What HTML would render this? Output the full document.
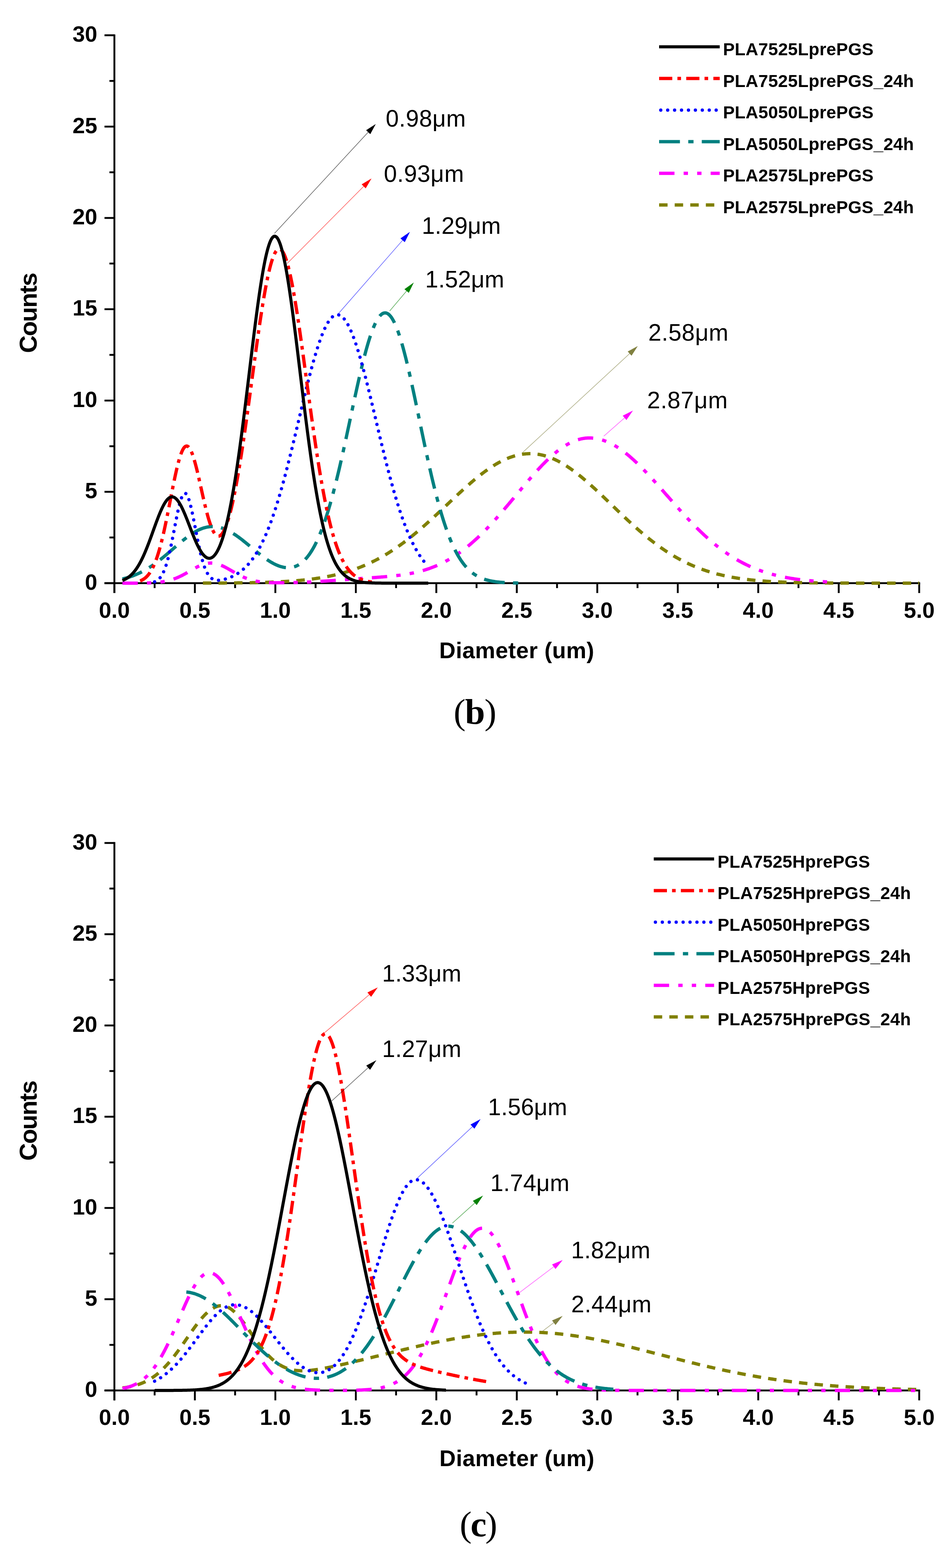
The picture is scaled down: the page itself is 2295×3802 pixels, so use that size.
<!DOCTYPE html>
<html><head><meta charset="utf-8"><title>Diameter distributions</title>
<style>html,body{margin:0;padding:0;background:#fff}svg{display:block}</style>
</head><body>
<svg width="2295" height="3802" viewBox="0 0 2295 3802">
<rect width="100%" height="100%" fill="#fff"/>
<g stroke="#000" stroke-width="4.5" fill="none">
<path d="M277.5 83.4V1438"/>
<path d="M253.5 1414H2232.2"/>
<path d="M253.5 1414H277.5M265.5 1303.3H277.5M253.5 1192.6H277.5M265.5 1081.9H277.5M253.5 971.2H277.5M265.5 860.5H277.5M253.5 749.8H277.5M265.5 639.1H277.5M253.5 528.4H277.5M265.5 417.7H277.5M253.5 307H277.5M265.5 196.3H277.5M253.5 85.6H277.5M277.5 1414V1438M375.12 1414V1426M472.75 1414V1438M570.38 1414V1426M668 1414V1438M765.62 1414V1426M863.25 1414V1438M960.88 1414V1426M1058.5 1414V1438M1156.12 1414V1426M1253.75 1414V1438M1351.38 1414V1426M1449 1414V1438M1546.62 1414V1426M1644.25 1414V1438M1741.88 1414V1426M1839.5 1414V1438M1937.12 1414V1426M2034.75 1414V1438M2132.38 1414V1426M2230 1414V1438"/>
</g>
<g font-family="'Liberation Sans', Arial, Helvetica, sans-serif" font-weight="bold" font-size="54" fill="#000">
<text x="236" y="1429.5" text-anchor="end">0</text>
<text x="236" y="1208.1" text-anchor="end">5</text>
<text x="236" y="986.7" text-anchor="end">10</text>
<text x="236" y="765.3" text-anchor="end">15</text>
<text x="236" y="543.9" text-anchor="end">20</text>
<text x="236" y="322.5" text-anchor="end">25</text>
<text x="236" y="101.1" text-anchor="end">30</text>
<text x="277.5" y="1497.5" text-anchor="middle">0.0</text>
<text x="472.75" y="1497.5" text-anchor="middle">0.5</text>
<text x="668" y="1497.5" text-anchor="middle">1.0</text>
<text x="863.25" y="1497.5" text-anchor="middle">1.5</text>
<text x="1058.5" y="1497.5" text-anchor="middle">2.0</text>
<text x="1253.75" y="1497.5" text-anchor="middle">2.5</text>
<text x="1449" y="1497.5" text-anchor="middle">3.0</text>
<text x="1644.25" y="1497.5" text-anchor="middle">3.5</text>
<text x="1839.5" y="1497.5" text-anchor="middle">4.0</text>
<text x="2034.75" y="1497.5" text-anchor="middle">4.5</text>
<text x="2230" y="1497.5" text-anchor="middle">5.0</text>
</g>
<polyline stroke="#808000" stroke-width="8" fill="none" stroke-linejoin="round" stroke-dasharray="20.5 17.3" points="492.27,1413.87 494.23,1413.86 496.18,1413.86 498.13,1413.85 500.09,1413.84 502.04,1413.84 503.99,1413.83 505.94,1413.83 507.9,1413.82 509.85,1413.81 511.8,1413.81 513.75,1413.8 515.71,1413.79 517.66,1413.78 519.61,1413.77 521.56,1413.77 523.51,1413.76 525.47,1413.75 527.42,1413.74 529.37,1413.73 531.33,1413.72 533.28,1413.71 535.23,1413.7 537.18,1413.69 539.13,1413.67 541.09,1413.66 543.04,1413.65 544.99,1413.64 546.95,1413.62 548.9,1413.61 550.85,1413.6 552.8,1413.58 554.76,1413.57 556.71,1413.55 558.66,1413.54 560.61,1413.52 562.57,1413.5 564.52,1413.49 566.47,1413.47 568.42,1413.45 570.38,1413.43 572.33,1413.41 574.28,1413.39 576.23,1413.37 578.18,1413.35 580.14,1413.32 582.09,1413.3 584.04,1413.28 586,1413.25 587.95,1413.22 589.9,1413.2 591.85,1413.17 593.81,1413.14 595.76,1413.11 597.71,1413.08 599.66,1413.05 601.62,1413.02 603.57,1412.99 605.52,1412.95 607.47,1412.92 609.42,1412.88 611.38,1412.85 613.33,1412.81 615.28,1412.77 617.24,1412.73 619.19,1412.69 621.14,1412.65 623.09,1412.6 625.05,1412.56 627,1412.51 628.95,1412.46 630.9,1412.41 632.86,1412.36 634.81,1412.31 636.76,1412.26 638.71,1412.2 640.66,1412.14 642.62,1412.09 644.57,1412.03 646.52,1411.96 648.48,1411.9 650.43,1411.84 652.38,1411.77 654.33,1411.7 656.29,1411.63 658.24,1411.56 660.19,1411.48 662.14,1411.4 664.1,1411.33 666.05,1411.24 668,1411.16 669.95,1411.08 671.9,1410.99 673.86,1410.9 675.81,1410.81 677.76,1410.71 679.72,1410.61 681.67,1410.51 683.62,1410.41 685.57,1410.3 687.53,1410.2 689.48,1410.09 691.43,1409.97 693.38,1409.85 695.34,1409.74 697.29,1409.61 699.24,1409.49 701.19,1409.36 703.14,1409.23 705.1,1409.09 707.05,1408.95 709,1408.81 710.96,1408.66 712.91,1408.51 714.86,1408.36 716.81,1408.2 718.77,1408.04 720.72,1407.88 722.67,1407.71 724.62,1407.54 726.58,1407.36 728.53,1407.18 730.48,1407 732.43,1406.81 734.38,1406.61 736.34,1406.41 738.29,1406.21 740.24,1406 742.19,1405.79 744.15,1405.57 746.1,1405.35 748.05,1405.12 750,1404.89 751.96,1404.65 753.91,1404.41 755.86,1404.16 757.82,1403.91 759.77,1403.65 761.72,1403.39 763.67,1403.12 765.62,1402.84 767.58,1402.56 769.53,1402.27 771.48,1401.97 773.43,1401.67 775.39,1401.37 777.34,1401.05 779.29,1400.73 781.25,1400.41 783.2,1400.07 785.15,1399.73 787.1,1399.38 789.06,1399.03 791.01,1398.67 792.96,1398.3 794.91,1397.92 796.87,1397.54 798.82,1397.15 800.77,1396.75 802.72,1396.34 804.68,1395.93 806.63,1395.51 808.58,1395.08 810.53,1394.64 812.49,1394.19 814.44,1393.74 816.39,1393.27 818.34,1392.8 820.3,1392.32 822.25,1391.83 824.2,1391.33 826.15,1390.82 828.11,1390.3 830.06,1389.78 832.01,1389.24 833.96,1388.69 835.92,1388.14 837.87,1387.57 839.82,1387 841.77,1386.42 843.73,1385.82 845.68,1385.22 847.63,1384.6 849.58,1383.98 851.54,1383.34 853.49,1382.69 855.44,1382.04 857.39,1381.37 859.35,1380.69 861.3,1380 863.25,1379.3 865.2,1378.59 867.16,1377.87 869.11,1377.14 871.06,1376.39 873.01,1375.63 874.97,1374.87 876.92,1374.09 878.87,1373.29 880.82,1372.49 882.77,1371.68 884.73,1370.85 886.68,1370.01 888.63,1369.16 890.59,1368.3 892.54,1367.42 894.49,1366.53 896.44,1365.63 898.39,1364.72 900.35,1363.79 902.3,1362.86 904.25,1361.91 906.21,1360.94 908.16,1359.97 910.11,1358.98 912.06,1357.98 914.02,1356.96 915.97,1355.94 917.92,1354.9 919.87,1353.84 921.83,1352.78 923.78,1351.7 925.73,1350.6 927.68,1349.5 929.64,1348.38 931.59,1347.25 933.54,1346.1 935.49,1344.95 937.45,1343.78 939.4,1342.59 941.35,1341.39 943.3,1340.18 945.26,1338.96 947.21,1337.72 949.16,1336.47 951.11,1335.21 953.07,1333.93 955.02,1332.65 956.97,1331.34 958.92,1330.03 960.88,1328.7 962.83,1327.36 964.78,1326.01 966.73,1324.64 968.69,1323.26 970.64,1321.87 972.59,1320.46 974.54,1319.05 976.5,1317.62 978.45,1316.18 980.4,1314.72 982.35,1313.26 984.31,1311.78 986.26,1310.29 988.21,1308.79 990.16,1307.28 992.12,1305.75 994.07,1304.21 996.02,1302.67 997.97,1301.11 999.93,1299.54 1001.88,1297.96 1003.83,1296.36 1005.78,1294.76 1007.73,1293.15 1009.69,1291.53 1011.64,1289.89 1013.59,1288.25 1015.55,1286.6 1017.5,1284.93 1019.45,1283.26 1021.4,1281.58 1023.36,1279.89 1025.31,1278.19 1027.26,1276.48 1029.21,1274.77 1031.16,1273.04 1033.12,1271.31 1035.07,1269.57 1037.02,1267.82 1038.97,1266.07 1040.93,1264.3 1042.88,1262.54 1044.83,1260.76 1046.78,1258.98 1048.74,1257.19 1050.69,1255.4 1052.64,1253.6 1054.6,1251.8 1056.55,1249.99 1058.5,1248.17 1060.45,1246.36 1062.41,1244.53 1064.36,1242.71 1066.31,1240.88 1068.26,1239.05 1070.22,1237.21 1072.17,1235.38 1074.12,1233.54 1076.07,1231.7 1078.03,1229.85 1079.98,1228.01 1081.93,1226.17 1083.88,1224.32 1085.84,1222.48 1087.79,1220.63 1089.74,1218.79 1091.69,1216.94 1093.64,1215.1 1095.6,1213.26 1097.55,1211.42 1099.5,1209.59 1101.46,1207.75 1103.41,1205.92 1105.36,1204.09 1107.31,1202.27 1109.26,1200.45 1111.22,1198.64 1113.17,1196.83 1115.12,1195.03 1117.08,1193.23 1119.03,1191.44 1120.98,1189.65 1122.93,1187.87 1124.88,1186.1 1126.84,1184.34 1128.79,1182.58 1130.74,1180.83 1132.7,1179.1 1134.65,1177.37 1136.6,1175.65 1138.55,1173.94 1140.51,1172.24 1142.46,1170.55 1144.41,1168.87 1146.36,1167.21 1148.32,1165.56 1150.27,1163.92 1152.22,1162.29 1154.17,1160.67 1156.12,1159.07 1158.08,1157.48 1160.03,1155.91 1161.98,1154.35 1163.93,1152.81 1165.89,1151.28 1167.84,1149.77 1169.79,1148.28 1171.74,1146.8 1173.7,1145.34 1175.65,1143.89 1177.6,1142.47 1179.56,1141.06 1181.51,1139.67 1183.46,1138.3 1185.41,1136.94 1187.37,1135.61 1189.32,1134.3 1191.27,1133.01 1193.22,1131.73 1195.18,1130.48 1197.13,1129.25 1199.08,1128.05 1201.03,1126.86 1202.99,1125.69 1204.94,1124.55 1206.89,1123.43 1208.84,1122.34 1210.8,1121.26 1212.75,1120.22 1214.7,1119.19 1216.65,1118.19 1218.61,1117.21 1220.56,1116.26 1222.51,1115.33 1224.46,1114.43 1226.41,1113.56 1228.37,1112.71 1230.32,1111.88 1232.27,1111.08 1234.22,1110.31 1236.18,1109.57 1238.13,1108.85 1240.08,1108.16 1242.04,1107.49 1243.99,1106.86 1245.94,1106.25 1247.89,1105.67 1249.85,1105.11 1251.8,1104.59 1253.75,1104.09 1255.7,1103.62 1257.66,1103.18 1259.61,1102.77 1261.56,1102.39 1263.51,1102.03 1265.47,1101.71 1267.42,1101.41 1269.37,1101.14 1271.32,1100.9 1273.28,1100.7 1275.23,1100.52 1277.18,1100.37 1279.13,1100.25 1281.09,1100.15 1283.04,1100.09 1284.99,1100.06 1286.94,1100.06 1288.89,1100.08 1290.85,1100.14 1292.8,1100.23 1294.75,1100.35 1296.71,1100.5 1298.66,1100.68 1300.61,1100.9 1302.56,1101.14 1304.51,1101.41 1306.47,1101.71 1308.42,1102.05 1310.37,1102.41 1312.33,1102.81 1314.28,1103.23 1316.23,1103.68 1318.18,1104.17 1320.13,1104.68 1322.09,1105.22 1324.04,1105.79 1325.99,1106.39 1327.95,1107.02 1329.9,1107.68 1331.85,1108.37 1333.8,1109.08 1335.75,1109.83 1337.71,1110.6 1339.66,1111.4 1341.61,1112.22 1343.57,1113.08 1345.52,1113.96 1347.47,1114.87 1349.42,1115.8 1351.38,1116.76 1353.33,1117.75 1355.28,1118.76 1357.23,1119.8 1359.19,1120.86 1361.14,1121.94 1363.09,1123.06 1365.04,1124.19 1367,1125.35 1368.95,1126.53 1370.9,1127.74 1372.85,1128.97 1374.81,1130.22 1376.76,1131.5 1378.71,1132.79 1380.66,1134.11 1382.62,1135.45 1384.57,1136.81 1386.52,1138.19 1388.47,1139.59 1390.42,1141.01 1392.38,1142.44 1394.33,1143.9 1396.28,1145.38 1398.24,1146.87 1400.19,1148.38 1402.14,1149.91 1404.09,1151.46 1406.04,1153.02 1408,1154.6 1409.95,1156.2 1411.9,1157.81 1413.86,1159.43 1415.81,1161.07 1417.76,1162.72 1419.71,1164.39 1421.67,1166.07 1423.62,1167.76 1425.57,1169.47 1427.52,1171.19 1429.48,1172.92 1431.43,1174.66 1433.38,1176.41 1435.33,1178.17 1437.29,1179.94 1439.24,1181.72 1441.19,1183.51 1443.14,1185.31 1445.1,1187.11 1447.05,1188.93 1449,1190.75 1450.95,1192.58 1452.9,1194.41 1454.86,1196.25 1456.81,1198.1 1458.76,1199.95 1460.72,1201.81 1462.67,1203.67 1464.62,1205.54 1466.57,1207.41 1468.52,1209.28 1470.48,1211.16 1472.43,1213.04 1474.38,1214.92 1476.34,1216.8 1478.29,1218.68 1480.24,1220.57 1482.19,1222.45 1484.14,1224.34 1486.1,1226.22 1488.05,1228.11 1490,1229.99 1491.96,1231.87 1493.91,1233.75 1495.86,1235.63 1497.81,1237.51 1499.77,1239.38 1501.72,1241.25 1503.67,1243.12 1505.62,1244.99 1507.58,1246.85 1509.53,1248.7 1511.48,1250.55 1513.43,1252.4 1515.38,1254.24 1517.34,1256.08 1519.29,1257.91 1521.24,1259.73 1523.19,1261.55 1525.15,1263.36 1527.1,1265.16 1529.05,1266.96 1531,1268.75 1532.96,1270.53 1534.91,1272.31 1536.86,1274.07 1538.82,1275.83 1540.77,1277.58 1542.72,1279.32 1544.67,1281.05 1546.62,1282.77 1548.58,1284.48 1550.53,1286.18 1552.48,1287.87 1554.44,1289.55 1556.39,1291.22 1558.34,1292.88 1560.29,1294.53 1562.25,1296.17 1564.2,1297.8 1566.15,1299.42 1568.1,1301.02 1570.06,1302.62 1572.01,1304.2 1573.96,1305.77 1575.91,1307.32 1577.87,1308.87 1579.82,1310.4 1581.77,1311.93 1583.72,1313.43 1585.67,1314.93 1587.63,1316.41 1589.58,1317.88 1591.53,1319.34 1593.49,1320.79 1595.44,1322.22 1597.39,1323.64 1599.34,1325.04 1601.29,1326.43 1603.25,1327.81 1605.2,1329.18 1607.15,1330.53 1609.11,1331.87 1611.06,1333.19 1613.01,1334.51 1614.96,1335.8 1616.92,1337.09 1618.87,1338.36 1620.82,1339.61 1622.77,1340.86 1624.73,1342.09 1626.68,1343.3 1628.63,1344.5 1630.58,1345.69 1632.54,1346.87 1634.49,1348.03 1636.44,1349.17 1638.39,1350.31 1640.35,1351.43 1642.3,1352.53 1644.25,1353.62 1646.2,1354.7 1648.15,1355.77 1650.11,1356.82 1652.06,1357.86 1654.01,1358.88 1655.97,1359.89 1657.92,1360.89 1659.87,1361.88 1661.82,1362.85 1663.77,1363.81 1665.73,1364.75 1667.68,1365.68 1669.63,1366.6 1671.59,1367.51 1673.54,1368.4 1675.49,1369.28 1677.44,1370.15 1679.39,1371.01 1681.35,1371.85 1683.3,1372.68 1685.25,1373.5 1687.21,1374.3 1689.16,1375.09 1691.11,1375.88 1693.06,1376.64 1695.02,1377.4 1696.97,1378.15 1698.92,1378.88 1700.87,1379.6 1702.83,1380.31 1704.78,1381.01 1706.73,1381.7 1708.68,1382.38 1710.63,1383.04 1712.59,1383.7 1714.54,1384.34 1716.49,1384.97 1718.44,1385.59 1720.4,1386.2 1722.35,1386.81 1724.3,1387.4 1726.25,1387.98 1728.21,1388.55 1730.16,1389.11 1732.11,1389.66 1734.07,1390.2 1736.02,1390.73 1737.97,1391.25 1739.92,1391.76 1741.88,1392.26 1743.83,1392.75 1745.78,1393.24 1747.73,1393.71 1749.69,1394.18 1751.64,1394.63 1753.59,1395.08 1755.54,1395.52 1757.5,1395.95 1759.45,1396.38 1761.4,1396.79 1763.35,1397.2 1765.31,1397.6 1767.26,1397.99 1769.21,1398.37 1771.16,1398.75 1773.12,1399.11 1775.07,1399.47 1777.02,1399.83 1778.97,1400.17 1780.92,1400.51 1782.88,1400.84 1784.83,1401.17 1786.78,1401.48 1788.74,1401.8 1790.69,1402.1 1792.64,1402.4 1794.59,1402.69 1796.54,1402.98 1798.5,1403.26 1800.45,1403.53 1802.4,1403.8 1804.36,1404.06 1806.31,1404.31 1808.26,1404.56 1810.21,1404.81 1812.17,1405.05 1814.12,1405.28 1816.07,1405.51 1818.02,1405.73 1819.98,1405.95 1821.93,1406.16 1823.88,1406.37 1825.83,1406.58 1827.79,1406.78 1829.74,1406.97 1831.69,1407.16 1833.64,1407.34 1835.6,1407.53 1837.55,1407.7 1839.5,1407.87 1841.45,1408.04 1843.4,1408.21 1845.36,1408.37 1847.31,1408.52 1849.26,1408.67 1851.22,1408.82 1853.17,1408.97 1855.12,1409.11 1857.07,1409.25 1859.02,1409.38 1860.98,1409.51 1862.93,1409.64 1864.88,1409.77 1866.84,1409.89 1868.79,1410.01 1870.74,1410.12 1872.69,1410.23 1874.64,1410.34 1876.6,1410.45 1878.55,1410.55 1880.5,1410.65 1882.46,1410.75 1884.41,1410.85 1886.36,1410.94 1888.31,1411.03 1890.27,1411.12 1892.22,1411.21 1894.17,1411.29 1896.12,1411.37 1898.08,1411.45 1900.03,1411.53 1901.98,1411.61 1903.93,1411.68 1905.88,1411.75 1907.84,1411.82 1909.79,1411.89 1911.74,1411.95 1913.69,1412.01 1915.65,1412.08 1917.6,1412.14 1919.55,1412.19 1921.5,1412.25 1923.46,1412.31 1925.41,1412.36 1927.36,1412.41 1929.32,1412.46 1931.27,1412.51 1933.22,1412.56 1935.17,1412.6 1937.12,1412.65 1939.08,1412.69 1941.03,1412.73 1942.98,1412.78 1944.94,1412.82 1946.89,1412.85 1948.84,1412.89 1950.79,1412.93 1952.75,1412.96 1954.7,1413 1956.65,1413.03 1958.6,1413.06 1960.56,1413.09 1962.51,1413.12 1964.46,1413.15 1966.41,1413.18 1968.37,1413.21 1970.32,1413.24 1972.27,1413.26 1974.22,1413.29 1976.17,1413.31 1978.13,1413.33 1980.08,1413.36 1982.03,1413.38 1983.99,1413.4 1985.94,1413.42 1987.89,1413.44 1989.84,1413.46 1991.8,1413.48 1993.75,1413.5 1995.7,1413.52 1997.65,1413.53 1999.61,1413.55 2001.56,1413.56 2003.51,1413.58 2005.46,1413.59 2007.42,1413.61 2009.37,1413.62 2011.32,1413.64 2013.27,1413.65 2015.23,1413.66 2017.18,1413.67 2019.13,1413.69 2021.08,1413.7 2023.04,1413.71 2024.99,1413.72 2026.94,1413.73 2028.89,1413.74 2030.85,1413.75 2032.8,1413.76 2034.75,1413.77 2036.7,1413.78 2038.65,1413.78 2040.61,1413.79 2042.56,1413.8 2044.51,1413.81 2046.47,1413.81 2048.42,1413.82 2050.37,1413.83 2052.32,1413.83 2054.27,1413.84 2056.23,1413.85 2058.18,1413.85 2060.13,1413.86 2062.09,1413.86 2064.04,1413.87 2065.99,1413.87 2067.94,1413.88 2069.89,1413.88 2071.85,1413.89 2073.8,1413.89 2075.75,1413.9 2077.7,1413.9 2079.66,1413.9 2081.61,1413.91 2083.56,1413.91 2085.51,1413.92 2087.47,1413.92 2089.42,1413.92 2091.37,1413.92 2093.32,1413.93 2095.28,1413.93 2097.23,1413.93 2099.18,1413.94 2101.14,1413.94 2103.09,1413.94 2105.04,1413.94 2106.99,1413.95 2108.95,1413.95 2110.9,1413.95 2112.85,1413.95 2114.8,1413.95 2116.76,1413.96 2118.71,1413.96 2120.66,1413.96 2122.61,1413.96 2124.57,1413.96 2126.52,1413.96 2128.47,1413.97 2130.42,1413.97 2132.38,1413.97 2134.33,1413.97 2136.28,1413.97 2138.23,1413.97 2140.19,1413.97 2142.14,1413.97 2144.09,1413.98 2146.04,1413.98 2147.99,1413.98 2149.95,1413.98 2151.9,1413.98 2153.85,1413.98 2155.8,1413.98 2157.76,1413.98 2159.71,1413.98 2161.66,1413.98 2163.61,1413.98 2165.57,1413.98 2167.52,1413.99 2169.47,1413.99 2171.43,1413.99 2173.38,1413.99 2175.33,1413.99 2177.28,1413.99 2179.24,1413.99 2181.19,1413.99 2183.14,1413.99 2185.09,1413.99 2187.05,1413.99 2189,1413.99 2190.95,1413.99 2192.9,1413.99 2194.86,1413.99 2196.81,1413.99 2198.76,1413.99 2200.71,1413.99 2202.66,1413.99 2204.62,1413.99 2206.57,1413.99 2208.52,1413.99 2210.48,1413.99 2212.43,1413.99 2214.38,1414 2216.33,1414 2218.28,1414 2220.24,1414 2222.19,1414 2224.14,1414 2226.1,1414 2228.05,1414 2230,1414"/>
<polyline stroke="#ff00ff" stroke-width="8" fill="none" stroke-linejoin="round" stroke-dasharray="37.3 22.2 10.5 22.3 10.5 22.2" points="297.02,1413.99 298.98,1413.99 300.93,1413.99 302.88,1413.99 304.83,1413.99 306.79,1413.99 308.74,1413.98 310.69,1413.98 312.64,1413.98 314.6,1413.97 316.55,1413.97 318.5,1413.97 320.45,1413.96 322.41,1413.95 324.36,1413.95 326.31,1413.94 328.26,1413.93 330.22,1413.92 332.17,1413.91 334.12,1413.89 336.07,1413.88 338.03,1413.86 339.98,1413.84 341.93,1413.82 343.88,1413.79 345.84,1413.77 347.79,1413.74 349.74,1413.7 351.69,1413.66 353.65,1413.62 355.6,1413.57 357.55,1413.52 359.5,1413.46 361.46,1413.39 363.41,1413.32 365.36,1413.24 367.31,1413.15 369.27,1413.05 371.22,1412.95 373.17,1412.83 375.12,1412.7 377.08,1412.56 379.03,1412.41 380.98,1412.24 382.94,1412.06 384.89,1411.86 386.84,1411.65 388.79,1411.41 390.75,1411.16 392.7,1410.89 394.65,1410.6 396.6,1410.29 398.56,1409.95 400.51,1409.59 402.46,1409.21 404.41,1408.8 406.37,1408.36 408.32,1407.9 410.27,1407.41 412.22,1406.89 414.18,1406.33 416.13,1405.75 418.08,1405.14 420.03,1404.49 421.99,1403.82 423.94,1403.11 425.89,1402.37 427.84,1401.59 429.79,1400.79 431.75,1399.95 433.7,1399.08 435.65,1398.19 437.61,1397.26 439.56,1396.31 441.51,1395.32 443.46,1394.32 445.41,1393.29 447.37,1392.23 449.32,1391.16 451.27,1390.07 453.23,1388.97 455.18,1387.85 457.13,1386.72 459.08,1385.59 461.03,1384.46 462.99,1383.32 464.94,1382.19 466.89,1381.06 468.85,1379.95 470.8,1378.85 472.75,1377.77 474.7,1376.71 476.65,1375.67 478.61,1374.67 480.56,1373.69 482.51,1372.76 484.47,1371.86 486.42,1371.01 488.37,1370.21 490.32,1369.46 492.27,1368.76 494.23,1368.12 496.18,1367.54 498.13,1367.02 500.09,1366.57 502.04,1366.18 503.99,1365.86 505.94,1365.61 507.9,1365.43 509.85,1365.32 511.8,1365.29 513.75,1365.32 515.71,1365.43 517.66,1365.61 519.61,1365.86 521.56,1366.18 523.51,1366.57 525.47,1367.02 527.42,1367.54 529.37,1368.12 531.33,1368.76 533.28,1369.45 535.23,1370.2 537.18,1371.01 539.13,1371.86 541.09,1372.75 543.04,1373.68 544.99,1374.65 546.95,1375.66 548.9,1376.69 550.85,1377.75 552.8,1378.83 554.76,1379.93 556.71,1381.05 558.66,1382.17 560.61,1383.3 562.57,1384.43 564.52,1385.57 566.47,1386.7 568.42,1387.82 570.38,1388.94 572.33,1390.04 574.28,1391.13 576.23,1392.2 578.18,1393.25 580.14,1394.27 582.09,1395.28 584.04,1396.26 586,1397.21 587.95,1398.13 589.9,1399.03 591.85,1399.89 593.81,1400.72 595.76,1401.52 597.71,1402.29 599.66,1403.03 601.62,1403.73 603.57,1404.4 605.52,1405.04 607.47,1405.65 609.42,1406.23 611.38,1406.77 613.33,1407.29 615.28,1407.77 617.24,1408.23 619.19,1408.66 621.14,1409.06 623.09,1409.44 625.05,1409.78 627,1410.11 628.95,1410.41 630.9,1410.69 632.86,1410.95 634.81,1411.19 636.76,1411.41 638.71,1411.61 640.67,1411.8 642.62,1411.96 644.57,1412.12 646.52,1412.25 648.48,1412.38 650.43,1412.49 652.38,1412.59 654.33,1412.68 656.29,1412.75 658.24,1412.82 660.19,1412.88 662.14,1412.93 664.1,1412.98 666.05,1413.01 668,1413.04 669.95,1413.06 671.9,1413.08 673.86,1413.09 675.81,1413.09 677.76,1413.09 679.72,1413.09 681.67,1413.08 683.62,1413.07 685.57,1413.05 687.53,1413.03 689.48,1413.01 691.43,1412.99 693.38,1412.96 695.34,1412.92 697.29,1412.89 699.24,1412.85 701.19,1412.81 703.14,1412.77 705.1,1412.73 707.05,1412.68 709,1412.63 710.96,1412.58 712.91,1412.53 714.86,1412.47 716.81,1412.42 718.77,1412.36 720.72,1412.3 722.67,1412.23 724.62,1412.17 726.58,1412.1 728.53,1412.03 730.48,1411.96 732.43,1411.89 734.38,1411.81 736.34,1411.74 738.29,1411.66 740.24,1411.58 742.2,1411.49 744.15,1411.41 746.1,1411.32 748.05,1411.23 750,1411.14 751.96,1411.05 753.91,1410.96 755.86,1410.86 757.82,1410.76 759.77,1410.66 761.72,1410.56 763.67,1410.46 765.63,1410.35 767.58,1410.24 769.53,1410.13 771.48,1410.02 773.43,1409.91 775.39,1409.8 777.34,1409.68 779.29,1409.56 781.25,1409.45 783.2,1409.32 785.15,1409.2 787.1,1409.08 789.06,1408.95 791.01,1408.83 792.96,1408.7 794.91,1408.57 796.87,1408.44 798.82,1408.31 800.77,1408.18 802.72,1408.04 804.68,1407.91 806.63,1407.77 808.58,1407.63 810.53,1407.5 812.49,1407.36 814.44,1407.22 816.39,1407.08 818.34,1406.94 820.3,1406.8 822.25,1406.66 824.2,1406.51 826.15,1406.37 828.11,1406.23 830.06,1406.09 832.01,1405.94 833.96,1405.8 835.92,1405.65 837.87,1405.51 839.82,1405.37 841.77,1405.22 843.73,1405.08 845.68,1404.93 847.63,1404.79 849.58,1404.65 851.54,1404.5 853.49,1404.36 855.44,1404.22 857.39,1404.07 859.35,1403.93 861.3,1403.79 863.25,1403.65 865.2,1403.5 867.15,1403.36 869.11,1403.22 871.06,1403.08 873.01,1402.94 874.97,1402.8 876.92,1402.66 878.87,1402.52 880.82,1402.38 882.77,1402.24 884.73,1402.11 886.68,1401.97 888.63,1401.83 890.59,1401.69 892.54,1401.55 894.49,1401.41 896.44,1401.27 898.39,1401.14 900.35,1401 902.3,1400.86 904.25,1400.72 906.21,1400.58 908.16,1400.43 910.11,1400.29 912.06,1400.15 914.01,1400.01 915.97,1399.86 917.92,1399.71 919.87,1399.56 921.83,1399.41 923.78,1399.26 925.73,1399.11 927.68,1398.95 929.64,1398.8 931.59,1398.63 933.54,1398.47 935.49,1398.31 937.45,1398.14 939.4,1397.96 941.35,1397.79 943.3,1397.61 945.26,1397.43 947.21,1397.24 949.16,1397.05 951.11,1396.85 953.06,1396.65 955.02,1396.45 956.97,1396.24 958.92,1396.02 960.88,1395.8 962.83,1395.57 964.78,1395.34 966.73,1395.1 968.69,1394.85 970.64,1394.6 972.59,1394.33 974.54,1394.07 976.5,1393.79 978.45,1393.51 980.4,1393.21 982.35,1392.91 984.31,1392.6 986.26,1392.29 988.21,1391.96 990.16,1391.62 992.12,1391.28 994.07,1390.92 996.02,1390.55 997.97,1390.18 999.93,1389.79 1001.88,1389.39 1003.83,1388.98 1005.78,1388.56 1007.74,1388.12 1009.69,1387.68 1011.64,1387.22 1013.59,1386.75 1015.55,1386.26 1017.5,1385.77 1019.45,1385.26 1021.4,1384.73 1023.36,1384.2 1025.31,1383.64 1027.26,1383.08 1029.21,1382.5 1031.16,1381.9 1033.12,1381.29 1035.07,1380.67 1037.02,1380.03 1038.97,1379.37 1040.93,1378.7 1042.88,1378.01 1044.83,1377.31 1046.79,1376.59 1048.74,1375.85 1050.69,1375.1 1052.64,1374.33 1054.6,1373.54 1056.55,1372.74 1058.5,1371.91 1060.45,1371.07 1062.4,1370.22 1064.36,1369.34 1066.31,1368.45 1068.26,1367.53 1070.22,1366.6 1072.17,1365.65 1074.12,1364.69 1076.07,1363.7 1078.03,1362.69 1079.98,1361.67 1081.93,1360.62 1083.88,1359.56 1085.84,1358.48 1087.79,1357.38 1089.74,1356.25 1091.69,1355.11 1093.64,1353.95 1095.6,1352.77 1097.55,1351.57 1099.5,1350.35 1101.45,1349.11 1103.41,1347.85 1105.36,1346.57 1107.31,1345.27 1109.26,1343.95 1111.22,1342.61 1113.17,1341.25 1115.12,1339.87 1117.07,1338.46 1119.03,1337.04 1120.98,1335.6 1122.93,1334.14 1124.88,1332.66 1126.84,1331.16 1128.79,1329.63 1130.74,1328.09 1132.69,1326.53 1134.65,1324.95 1136.6,1323.35 1138.55,1321.73 1140.51,1320.08 1142.46,1318.42 1144.41,1316.74 1146.36,1315.04 1148.32,1313.33 1150.27,1311.59 1152.22,1309.83 1154.17,1308.06 1156.12,1306.26 1158.08,1304.45 1160.03,1302.62 1161.98,1300.77 1163.93,1298.9 1165.89,1297.02 1167.84,1295.12 1169.79,1293.2 1171.74,1291.26 1173.7,1289.31 1175.65,1287.34 1177.6,1285.35 1179.56,1283.34 1181.51,1281.33 1183.46,1279.29 1185.41,1277.24 1187.37,1275.17 1189.32,1273.09 1191.27,1271 1193.22,1268.89 1195.18,1266.77 1197.13,1264.63 1199.08,1262.48 1201.03,1260.32 1202.98,1258.14 1204.94,1255.96 1206.89,1253.76 1208.84,1251.55 1210.8,1249.33 1212.75,1247.09 1214.7,1244.85 1216.65,1242.6 1218.61,1240.34 1220.56,1238.07 1222.51,1235.79 1224.46,1233.51 1226.41,1231.21 1228.37,1228.91 1230.32,1226.6 1232.27,1224.29 1234.22,1221.97 1236.18,1219.65 1238.13,1217.32 1240.08,1214.99 1242.03,1212.65 1243.99,1210.31 1245.94,1207.97 1247.89,1205.63 1249.84,1203.29 1251.8,1200.94 1253.75,1198.59 1255.7,1196.25 1257.66,1193.91 1259.61,1191.56 1261.56,1189.22 1263.51,1186.89 1265.46,1184.55 1267.42,1182.22 1269.37,1179.9 1271.32,1177.58 1273.28,1175.26 1275.23,1172.95 1277.18,1170.65 1279.13,1168.36 1281.09,1166.07 1283.04,1163.8 1284.99,1161.53 1286.94,1159.27 1288.89,1157.03 1290.85,1154.79 1292.8,1152.57 1294.75,1150.36 1296.7,1148.16 1298.66,1145.98 1300.61,1143.82 1302.56,1141.66 1304.51,1139.53 1306.47,1137.41 1308.42,1135.31 1310.37,1133.22 1312.33,1131.16 1314.28,1129.11 1316.23,1127.08 1318.18,1125.08 1320.13,1123.09 1322.09,1121.13 1324.04,1119.19 1325.99,1117.27 1327.94,1115.38 1329.9,1113.51 1331.85,1111.66 1333.8,1109.84 1335.75,1108.05 1337.71,1106.28 1339.66,1104.54 1341.61,1102.83 1343.57,1101.14 1345.52,1099.49 1347.47,1097.86 1349.42,1096.27 1351.38,1094.7 1353.33,1093.17 1355.28,1091.66 1357.23,1090.19 1359.18,1088.75 1361.14,1087.35 1363.09,1085.98 1365.04,1084.64 1367,1083.34 1368.95,1082.07 1370.9,1080.84 1372.85,1079.64 1374.81,1078.48 1376.76,1077.35 1378.71,1076.27 1380.66,1075.22 1382.62,1074.2 1384.57,1073.23 1386.52,1072.29 1388.47,1071.4 1390.42,1070.54 1392.38,1069.72 1394.33,1068.94 1396.28,1068.21 1398.24,1067.51 1400.19,1066.85 1402.14,1066.23 1404.09,1065.66 1406.05,1065.12 1408,1064.63 1409.95,1064.18 1411.9,1063.77 1413.85,1063.4 1415.81,1063.07 1417.76,1062.79 1419.71,1062.55 1421.66,1062.35 1423.62,1062.19 1425.57,1062.08 1427.52,1062 1429.48,1061.97 1431.43,1061.99 1433.38,1062.04 1435.33,1062.12 1437.28,1062.25 1439.24,1062.41 1441.19,1062.62 1443.14,1062.86 1445.09,1063.13 1447.05,1063.45 1449,1063.8 1450.95,1064.19 1452.91,1064.62 1454.86,1065.09 1456.81,1065.59 1458.76,1066.13 1460.71,1066.71 1462.67,1067.32 1464.62,1067.97 1466.57,1068.66 1468.52,1069.38 1470.48,1070.14 1472.43,1070.93 1474.38,1071.76 1476.34,1072.63 1478.29,1073.53 1480.24,1074.46 1482.19,1075.43 1484.14,1076.43 1486.1,1077.46 1488.05,1078.53 1490,1079.63 1491.95,1080.77 1493.91,1081.93 1495.86,1083.13 1497.81,1084.36 1499.76,1085.62 1501.72,1086.91 1503.67,1088.23 1505.62,1089.58 1507.58,1090.96 1509.53,1092.37 1511.48,1093.81 1513.43,1095.28 1515.38,1096.77 1517.34,1098.29 1519.29,1099.84 1521.24,1101.41 1523.19,1103.02 1525.15,1104.64 1527.1,1106.29 1529.05,1107.97 1531,1109.66 1532.96,1111.39 1534.91,1113.13 1536.86,1114.9 1538.82,1116.69 1540.77,1118.5 1542.72,1120.33 1544.67,1122.18 1546.62,1124.05 1548.58,1125.95 1550.53,1127.86 1552.48,1129.78 1554.43,1131.73 1556.39,1133.69 1558.34,1135.67 1560.29,1137.67 1562.25,1139.68 1564.2,1141.7 1566.15,1143.74 1568.1,1145.79 1570.06,1147.86 1572.01,1149.94 1573.96,1152.03 1575.91,1154.14 1577.87,1156.25 1579.82,1158.38 1581.77,1160.51 1583.72,1162.66 1585.67,1164.81 1587.63,1166.97 1589.58,1169.14 1591.53,1171.32 1593.49,1173.5 1595.44,1175.69 1597.39,1177.89 1599.34,1180.09 1601.3,1182.29 1603.25,1184.5 1605.2,1186.72 1607.15,1188.93 1609.1,1191.15 1611.06,1193.37 1613.01,1195.59 1614.96,1197.82 1616.91,1200.04 1618.87,1202.26 1620.82,1204.49 1622.77,1206.71 1624.73,1208.93 1626.68,1211.15 1628.63,1213.37 1630.58,1215.58 1632.53,1217.8 1634.49,1220 1636.44,1222.21 1638.39,1224.41 1640.34,1226.6 1642.3,1228.79 1644.25,1230.97 1646.2,1233.15 1648.16,1235.32 1650.11,1237.49 1652.06,1239.64 1654.01,1241.79 1655.96,1243.93 1657.92,1246.07 1659.87,1248.19 1661.82,1250.31 1663.77,1252.41 1665.73,1254.51 1667.68,1256.59 1669.63,1258.67 1671.59,1260.73 1673.54,1262.78 1675.49,1264.83 1677.44,1266.86 1679.39,1268.88 1681.35,1270.88 1683.3,1272.88 1685.25,1274.86 1687.2,1276.83 1689.16,1278.78 1691.11,1280.72 1693.06,1282.65 1695.01,1284.56 1696.97,1286.46 1698.92,1288.35 1700.87,1290.22 1702.83,1292.08 1704.78,1293.92 1706.73,1295.75 1708.68,1297.56 1710.63,1299.36 1712.59,1301.14 1714.54,1302.9 1716.49,1304.65 1718.44,1306.39 1720.4,1308.1 1722.35,1309.81 1724.3,1311.49 1726.25,1313.16 1728.21,1314.81 1730.16,1316.45 1732.11,1318.07 1734.07,1319.67 1736.02,1321.26 1737.97,1322.83 1739.92,1324.38 1741.88,1325.92 1743.83,1327.44 1745.78,1328.94 1747.73,1330.42 1749.68,1331.89 1751.64,1333.34 1753.59,1334.77 1755.54,1336.19 1757.5,1337.59 1759.45,1338.97 1761.4,1340.34 1763.35,1341.69 1765.31,1343.02 1767.26,1344.33 1769.21,1345.63 1771.16,1346.91 1773.12,1348.18 1775.07,1349.42 1777.02,1350.65 1778.97,1351.87 1780.92,1353.07 1782.88,1354.25 1784.83,1355.41 1786.78,1356.56 1788.74,1357.69 1790.69,1358.8 1792.64,1359.9 1794.59,1360.99 1796.55,1362.05 1798.5,1363.1 1800.45,1364.14 1802.4,1365.16 1804.35,1366.16 1806.31,1367.15 1808.26,1368.12 1810.21,1369.08 1812.16,1370.02 1814.12,1370.95 1816.07,1371.86 1818.02,1372.76 1819.98,1373.64 1821.93,1374.51 1823.88,1375.36 1825.83,1376.2 1827.78,1377.02 1829.74,1377.83 1831.69,1378.63 1833.64,1379.41 1835.59,1380.18 1837.55,1380.94 1839.5,1381.68 1841.45,1382.41 1843.41,1383.13 1845.36,1383.83 1847.31,1384.52 1849.26,1385.2 1851.22,1385.86 1853.17,1386.51 1855.12,1387.15 1857.07,1387.78 1859.02,1388.4 1860.98,1389 1862.93,1389.6 1864.88,1390.18 1866.84,1390.75 1868.79,1391.31 1870.74,1391.86 1872.69,1392.39 1874.64,1392.92 1876.6,1393.44 1878.55,1393.94 1880.5,1394.44 1882.46,1394.92 1884.41,1395.4 1886.36,1395.86 1888.31,1396.32 1890.26,1396.76 1892.22,1397.2 1894.17,1397.63 1896.12,1398.04 1898.08,1398.45 1900.03,1398.85 1901.98,1399.24 1903.93,1399.63 1905.88,1400 1907.84,1400.37 1909.79,1400.73 1911.74,1401.08 1913.69,1401.42 1915.65,1401.75 1917.6,1402.08 1919.55,1402.4 1921.5,1402.71 1923.46,1403.02 1925.41,1403.31 1927.36,1403.6 1929.32,1403.89 1931.27,1404.17 1933.22,1404.44 1935.17,1404.7 1937.12,1404.96 1939.08,1405.21 1941.03,1405.46 1942.98,1405.7 1944.93,1405.93 1946.89,1406.16 1948.84,1406.38 1950.79,1406.6 1952.75,1406.81 1954.7,1407.02 1956.65,1407.22 1958.6,1407.41 1960.55,1407.6 1962.51,1407.79 1964.46,1407.97 1966.41,1408.15 1968.37,1408.32 1970.32,1408.49 1972.27,1408.65 1974.22,1408.81 1976.17,1408.97 1978.13,1409.12 1980.08,1409.26 1982.03,1409.41 1983.99,1409.55 1985.94,1409.68 1987.89,1409.81 1989.84,1409.94 1991.79,1410.06 1993.75,1410.19 1995.7,1410.3 1997.65,1410.42 1999.61,1410.53 2001.56,1410.64 2003.51,1410.74 2005.46,1410.85 2007.42,1410.95 2009.37,1411.04 2011.32,1411.14 2013.27,1411.23 2015.23,1411.32 2017.18,1411.4 2019.13,1411.49"/>
<polyline stroke="#008080" stroke-width="8" fill="none" stroke-linejoin="round" stroke-dasharray="50.5 20.2 12.8 20" points="297.02,1403.93 298.98,1403.45 300.93,1402.95 302.88,1402.44 304.83,1401.9 306.79,1401.35 308.74,1400.78 310.69,1400.18 312.64,1399.57 314.6,1398.93 316.55,1398.27 318.5,1397.59 320.45,1396.89 322.41,1396.17 324.36,1395.42 326.31,1394.65 328.26,1393.86 330.22,1393.04 332.17,1392.2 334.12,1391.34 336.07,1390.45 338.03,1389.53 339.98,1388.59 341.93,1387.63 343.88,1386.63 345.84,1385.62 347.79,1384.58 349.74,1383.51 351.69,1382.42 353.65,1381.3 355.6,1380.16 357.55,1378.99 359.5,1377.8 361.46,1376.58 363.41,1375.33 365.36,1374.07 367.31,1372.77 369.27,1371.46 371.22,1370.11 373.17,1368.75 375.12,1367.36 377.08,1365.95 379.03,1364.52 380.98,1363.07 382.94,1361.59 384.89,1360.1 386.84,1358.59 388.79,1357.05 390.75,1355.5 392.7,1353.94 394.65,1352.35 396.6,1350.75 398.56,1349.14 400.51,1347.51 402.46,1345.87 404.41,1344.22 406.37,1342.56 408.32,1340.89 410.27,1339.21 412.22,1337.52 414.18,1335.83 416.13,1334.14 418.08,1332.44 420.03,1330.74 421.99,1329.04 423.94,1327.35 425.89,1325.65 427.84,1323.96 429.79,1322.28 431.75,1320.6 433.7,1318.93 435.65,1317.27 437.61,1315.63 439.56,1314 441.51,1312.38 443.46,1310.78 445.41,1309.2 447.37,1307.64 449.32,1306.1 451.27,1304.58 453.23,1303.09 455.18,1301.63 457.13,1300.19 459.08,1298.78 461.03,1297.41 462.99,1296.07 464.94,1294.76 466.89,1293.48 468.85,1292.25 470.8,1291.05 472.75,1289.89 474.7,1288.78 476.65,1287.7 478.61,1286.67 480.56,1285.69 482.51,1284.75 484.47,1283.86 486.42,1283.01 488.37,1282.22 490.32,1281.48 492.27,1280.79 494.23,1280.15 496.18,1279.56 498.13,1279.03 500.09,1278.55 502.04,1278.12 503.99,1277.76 505.94,1277.44 507.89,1277.19 509.85,1276.99 511.8,1276.84 513.75,1276.76 515.7,1276.73 517.66,1276.76 519.61,1276.84 521.56,1276.97 523.51,1277.17 525.47,1277.41 527.42,1277.71 529.37,1278.06 531.33,1278.47 533.28,1278.93 535.23,1279.44 537.18,1280 539.13,1280.62 541.09,1281.28 543.04,1281.99 544.99,1282.76 546.95,1283.56 548.9,1284.42 550.85,1285.32 552.8,1286.27 554.76,1287.26 556.71,1288.29 558.66,1289.36 560.61,1290.47 562.57,1291.63 564.52,1292.81 566.47,1294.04 568.42,1295.3 570.38,1296.59 572.33,1297.91 574.28,1299.27 576.23,1300.65 578.18,1302.06 580.14,1303.49 582.09,1304.95 584.04,1306.43 586,1307.93 587.95,1309.46 589.9,1310.99 591.85,1312.55 593.81,1314.12 595.76,1315.7 597.71,1317.29 599.66,1318.9 601.62,1320.51 603.57,1322.12 605.52,1323.74 607.47,1325.37 609.42,1326.99 611.38,1328.62 613.33,1330.24 615.28,1331.86 617.24,1333.47 619.19,1335.08 621.14,1336.68 623.09,1338.27 625.05,1339.85 627,1341.41 628.95,1342.96 630.9,1344.5 632.86,1346.01 634.81,1347.51 636.76,1348.99 638.71,1350.45 640.66,1351.88 642.62,1353.28 644.57,1354.67 646.52,1356.02 648.47,1357.34 650.43,1358.64 652.38,1359.9 654.33,1361.12 656.29,1362.32 658.24,1363.47 660.19,1364.59 662.14,1365.67 664.1,1366.7 666.05,1367.7 668,1368.65 669.95,1369.56 671.9,1370.41 673.86,1371.22 675.81,1371.98 677.76,1372.69 679.72,1373.35 681.67,1373.95 683.62,1374.49 685.57,1374.97 687.53,1375.4 689.48,1375.76 691.43,1376.06 693.38,1376.29 695.34,1376.46 697.29,1376.56 699.24,1376.58 701.19,1376.53 703.14,1376.41 705.1,1376.21 707.05,1375.92 709,1375.56 710.96,1375.11 712.91,1374.58 714.86,1373.96 716.81,1373.24 718.76,1372.44 720.72,1371.53 722.67,1370.53 724.62,1369.43 726.58,1368.22 728.53,1366.91 730.48,1365.49 732.43,1363.96 734.38,1362.32 736.34,1360.56 738.29,1358.68 740.24,1356.68 742.19,1354.55 744.15,1352.3 746.1,1349.92 748.05,1347.41 750,1344.76 751.96,1341.98 753.91,1339.06 755.86,1335.99 757.82,1332.79 759.77,1329.43 761.72,1325.93 763.67,1322.28 765.63,1318.48 767.58,1314.53 769.53,1310.41 771.48,1306.15 773.43,1301.72 775.39,1297.14 777.34,1292.39 779.29,1287.48 781.25,1282.41 783.2,1277.18 785.15,1271.78 787.1,1266.23 789.06,1260.5 791.01,1254.62 792.96,1248.57 794.91,1242.37 796.87,1236 798.82,1229.47 800.77,1222.79 802.72,1215.95 804.67,1208.96 806.63,1201.82 808.58,1194.53 810.53,1187.1 812.49,1179.53 814.44,1171.82 816.39,1163.98 818.34,1156.01 820.3,1147.92 822.25,1139.71 824.2,1131.39 826.15,1122.96 828.11,1114.44 830.06,1105.82 832.01,1097.11 833.96,1088.32 835.92,1079.46 837.87,1070.54 839.82,1061.56 841.77,1052.53 843.73,1043.46 845.68,1034.36 847.63,1025.25 849.58,1016.12 851.54,1006.99 853.49,997.86 855.44,988.76 857.39,979.68 859.35,970.65 861.3,961.66 863.25,952.74 865.2,943.88 867.15,935.11 869.11,926.43 871.06,917.86 873.01,909.4 874.97,901.07 876.92,892.87 878.87,884.83 880.82,876.94 882.77,869.23 884.73,861.7 886.68,854.36 888.63,847.22 890.59,840.29 892.54,833.59 894.49,827.12 896.44,820.9 898.39,814.92 900.35,809.21 902.3,803.76 904.25,798.59 906.21,793.71 908.16,789.12 910.11,784.83 912.06,780.84 914.01,777.17 915.97,773.82 917.92,770.79 919.87,768.09 921.83,765.72 923.78,763.69 925.73,762 927.68,760.65 929.63,759.64 931.59,758.98 933.54,758.67 935.49,758.71 937.44,759.11 939.4,759.88 941.35,761 943.3,762.49 945.25,764.34 947.21,766.54 949.16,769.09 951.11,771.99 953.06,775.23 955.02,778.81 956.97,782.72 958.92,786.96 960.88,791.51 962.83,796.37 964.78,801.54 966.73,807 968.69,812.75 970.64,818.77 972.59,825.06 974.54,831.61 976.5,838.41 978.45,845.44 980.4,852.7 982.35,860.17 984.31,867.85 986.26,875.72 988.21,883.78 990.16,892 992.12,900.38 994.07,908.91 996.02,917.57 997.97,926.36 999.92,935.25 1001.88,944.25 1003.83,953.33 1005.78,962.49 1007.74,971.71 1009.69,980.99 1011.64,990.3 1013.59,999.65 1015.55,1009.01 1017.5,1018.39 1019.45,1027.76 1021.4,1037.12 1023.36,1046.46 1025.31,1055.76 1027.26,1065.03 1029.21,1074.24 1031.16,1083.39 1033.12,1092.48 1035.07,1101.49 1037.02,1110.42 1038.97,1119.25 1040.93,1127.99 1042.88,1136.62 1044.83,1145.14 1046.78,1153.55 1048.74,1161.83 1050.69,1169.99 1052.64,1178.01 1054.6,1185.9 1056.55,1193.64 1058.5,1201.24 1060.45,1208.69 1062.4,1215.99 1064.36,1223.14 1066.31,1230.14 1068.26,1236.97 1070.21,1243.65 1072.17,1250.16 1074.12,1256.51 1076.07,1262.7 1078.03,1268.73 1079.98,1274.6 1081.93,1280.3 1083.88,1285.84 1085.84,1291.22 1087.79,1296.44 1089.74,1301.5 1091.69,1306.41 1093.64,1311.15 1095.6,1315.74 1097.55,1320.18 1099.5,1324.47 1101.45,1328.61 1103.41,1332.6 1105.36,1336.45 1107.31,1340.16 1109.26,1343.73 1111.22,1347.17 1113.17,1350.47 1115.12,1353.64 1117.07,1356.69 1119.03,1359.61 1120.98,1362.41 1122.93,1365.1 1124.88,1367.67 1126.84,1370.13 1128.79,1372.48 1130.74,1374.73 1132.69,1376.88 1134.65,1378.93 1136.6,1380.88 1138.55,1382.75 1140.5,1384.52 1142.46,1386.21 1144.41,1387.82 1146.36,1389.35 1148.32,1390.8 1150.27,1392.18 1152.22,1393.48 1154.17,1394.72 1156.12,1395.9 1158.08,1397.01 1160.03,1398.07 1161.98,1399.06 1163.93,1400 1165.89,1400.89 1167.84,1401.73 1169.79,1402.53 1171.74,1403.27 1173.7,1403.98 1175.65,1404.64 1177.6,1405.27 1179.56,1405.85 1181.51,1406.4 1183.46,1406.92 1185.41,1407.41 1187.36,1407.87 1189.32,1408.29 1191.27,1408.7 1193.22,1409.07 1195.17,1409.42 1197.13,1409.75 1199.08,1410.06 1201.03,1410.35 1202.98,1410.62 1204.94,1410.87 1206.89,1411.1 1208.84,1411.32 1210.8,1411.52 1212.75,1411.71 1214.7,1411.88 1216.65,1412.05 1218.61,1412.2 1220.56,1412.34 1222.51,1412.47 1224.46,1412.59 1226.41,1412.7 1228.37,1412.81 1230.32,1412.9 1232.27,1412.99 1234.22,1413.07 1236.18,1413.15 1238.13,1413.22 1240.08,1413.28 1242.03,1413.34 1243.99,1413.4 1245.94,1413.45 1247.89,1413.5 1249.84,1413.54 1251.8,1413.58 1253.75,1413.62 1255.7,1413.65 1257.65,1413.68 1259.61,1413.71 1261.56,1413.73 1263.51,1413.76 1265.46,1413.78"/>
<polyline stroke="#0000ff" stroke-width="8" fill="none" stroke-linejoin="round" stroke-linecap="round" stroke-dasharray="0.01 16.79" points="375.12,1410.67 377.08,1409.85 379.03,1408.86 380.98,1407.68 382.94,1406.27 384.89,1404.6 386.84,1402.63 388.79,1400.33 390.75,1397.67 392.7,1394.61 394.65,1391.1 396.6,1387.12 398.56,1382.63 400.51,1377.61 402.46,1372.03 404.41,1365.89 406.37,1359.17 408.32,1351.88 410.27,1344.04 412.22,1335.67 414.17,1326.81 416.13,1317.53 418.08,1307.89 420.03,1297.97 421.99,1287.87 423.94,1277.71 425.89,1267.59 427.84,1257.65 429.8,1248.01 431.75,1238.83 433.7,1230.22 435.65,1222.33 437.61,1215.28 439.56,1209.18 441.51,1204.14 443.46,1200.24 445.41,1197.55 447.37,1196.12 449.32,1195.97 451.27,1197.1 453.23,1199.49 455.18,1203.11 457.13,1207.88 459.08,1213.73 461.03,1220.55 462.99,1228.24 464.94,1236.66 466.89,1245.68 468.85,1255.18 470.8,1265.01 472.75,1275.04 474.7,1285.14 476.65,1295.19 478.61,1305.08 480.56,1314.71 482.51,1323.99 484.47,1332.85 486.42,1341.22 488.37,1349.08 490.32,1356.38 492.27,1363.1 494.23,1369.24 496.18,1374.8 498.13,1379.8 500.09,1384.25 502.04,1388.18 503.99,1391.62 505.94,1394.6 507.9,1397.15 509.85,1399.33 511.8,1401.15 513.75,1402.66 515.7,1403.89 517.66,1404.87 519.61,1405.63 521.56,1406.2 523.51,1406.6 525.47,1406.86 527.42,1407 529.37,1407.02 531.32,1406.95 533.28,1406.8 535.23,1406.57 537.18,1406.28 539.13,1405.93 541.09,1405.53 543.04,1405.08 544.99,1404.59 546.94,1404.05 548.9,1403.47 550.85,1402.85 552.8,1402.2 554.75,1401.5 556.71,1400.76 558.66,1399.97 560.61,1399.15 562.57,1398.28 564.52,1397.37 566.47,1396.41 568.42,1395.4 570.38,1394.35 572.33,1393.24 574.28,1392.08 576.23,1390.86 578.18,1389.59 580.14,1388.25 582.09,1386.86 584.04,1385.4 585.99,1383.88 587.95,1382.29 589.9,1380.63 591.85,1378.9 593.81,1377.09 595.76,1375.21 597.71,1373.26 599.66,1371.22 601.62,1369.09 603.57,1366.89 605.52,1364.6 607.47,1362.21 609.42,1359.74 611.38,1357.17 613.33,1354.51 615.28,1351.75 617.24,1348.89 619.19,1345.93 621.14,1342.86 623.09,1339.69 625.05,1336.41 627,1333.02 628.95,1329.52 630.9,1325.91 632.86,1322.18 634.81,1318.34 636.76,1314.37 638.71,1310.29 640.66,1306.09 642.62,1301.77 644.57,1297.32 646.52,1292.75 648.47,1288.06 650.43,1283.24 652.38,1278.3 654.33,1273.23 656.28,1268.03 658.24,1262.71 660.19,1257.27 662.14,1251.69 664.1,1245.99 666.05,1240.17 668,1234.23 669.95,1228.16 671.9,1221.97 673.86,1215.65 675.81,1209.22 677.76,1202.68 679.71,1196.02 681.67,1189.24 683.62,1182.36 685.57,1175.37 687.52,1168.28 689.48,1161.08 691.43,1153.79 693.38,1146.4 695.33,1138.92 697.29,1131.36 699.24,1123.71 701.19,1115.99 703.14,1108.19 705.1,1100.33 707.05,1092.4 709,1084.42 710.95,1076.38 712.91,1068.3 714.86,1060.18 716.81,1052.03 718.76,1043.84 720.72,1035.64 722.67,1027.42 724.62,1019.2 726.58,1010.98 728.53,1002.76 730.48,994.56 732.43,986.38 734.38,978.23 736.34,970.11 738.29,962.05 740.24,954.03 742.19,946.08 744.15,938.19 746.1,930.39 748.05,922.66 750,915.03 751.96,907.51 753.91,900.09 755.86,892.79 757.82,885.61 759.77,878.57 761.72,871.67 763.67,864.92 765.62,858.33 767.58,851.9 769.53,845.64 771.48,839.57 773.43,833.68 775.39,827.98 777.34,822.49 779.29,817.2 781.25,812.13 783.2,807.28 785.15,802.65 787.1,798.26 789.05,794.1 791.01,790.19 792.96,786.52 794.91,783.11 796.86,779.95 798.82,777.06 800.77,774.43 802.72,772.06 804.68,769.97 806.63,768.15 808.58,766.61 810.53,765.34 812.49,764.35 814.44,763.65 816.39,763.23 818.34,763.08 820.29,763.23 822.25,763.65 824.2,764.35 826.15,765.34 828.11,766.61 830.06,768.15 832.01,769.97 833.96,772.06 835.91,774.43 837.87,777.06 839.82,779.95 841.77,783.11 843.73,786.52 845.68,790.19 847.63,794.1 849.58,798.26 851.53,802.65 853.49,807.28 855.44,812.13 857.39,817.2 859.35,822.49 861.3,827.98 863.25,833.68 865.2,839.57 867.15,845.64 869.11,851.9 871.06,858.33 873.01,864.92 874.97,871.67 876.92,878.57 878.87,885.61 880.82,892.79 882.77,900.09 884.73,907.51 886.68,915.03 888.63,922.66 890.58,930.39 892.54,938.19 894.49,946.08 896.44,954.03 898.39,962.05 900.35,970.11 902.3,978.23 904.25,986.38 906.21,994.56 908.16,1002.76 910.11,1010.98 912.06,1019.2 914.01,1027.42 915.97,1035.64 917.92,1043.84 919.87,1052.03 921.82,1060.18 923.78,1068.3 925.73,1076.38 927.68,1084.42 929.63,1092.4 931.59,1100.33 933.54,1108.19 935.49,1115.99 937.44,1123.71 939.4,1131.36 941.35,1138.92 943.3,1146.4 945.25,1153.79 947.21,1161.08 949.16,1168.28 951.11,1175.37 953.06,1182.36 955.02,1189.24 956.97,1196.02 958.92,1202.68 960.88,1209.22 962.83,1215.65 964.78,1221.97 966.73,1228.16 968.69,1234.23 970.64,1240.17 972.59,1245.99 974.54,1251.69 976.5,1257.27 978.45,1262.71 980.4,1268.03 982.35,1273.23 984.3,1278.3 986.26,1283.24 988.21,1288.06 990.16,1292.75 992.11,1297.32 994.07,1301.77 996.02,1306.09 997.97,1310.29 999.92,1314.37 1001.88,1318.34 1003.83,1322.18 1005.78,1325.91 1007.73,1329.52 1009.69,1333.02 1011.64,1336.41 1013.59,1339.69 1015.54,1342.86 1017.5,1345.93 1019.45,1348.89 1021.4,1351.75 1023.35,1354.51 1025.31,1357.17 1027.26,1359.74 1029.21,1362.21 1031.16,1364.6 1033.12,1366.89 1035.07,1369.09"/>
<polyline stroke="#ff0000" stroke-width="8" fill="none" stroke-linejoin="round" stroke-dasharray="32 12.4 8.8 12.6" points="339.98,1408.63 341.93,1407.81 343.88,1406.88 345.84,1405.83 347.79,1404.66 349.74,1403.34 351.69,1401.86 353.65,1400.21 355.6,1398.38 357.55,1396.35 359.5,1394.1 361.46,1391.62 363.41,1388.9 365.36,1385.92 367.31,1382.66 369.27,1379.12 371.22,1375.26 373.17,1371.09 375.12,1366.59 377.08,1361.75 379.03,1356.55 380.98,1351 382.94,1345.08 384.89,1338.8 386.84,1332.14 388.79,1325.12 390.75,1317.74 392.7,1310.01 394.65,1301.93 396.6,1293.53 398.56,1284.82 400.51,1275.82 402.46,1266.57 404.41,1257.09 406.37,1247.42 408.32,1237.59 410.27,1227.65 412.22,1217.64 414.18,1207.6 416.13,1197.59 418.08,1187.66 420.03,1177.86 421.99,1168.25 423.94,1158.88 425.89,1149.82 427.84,1141.1 429.8,1132.8 431.75,1124.97 433.7,1117.65 435.65,1110.89 437.61,1104.75 439.56,1099.25 441.51,1094.45 443.46,1090.37 445.42,1087.04 447.37,1084.48 449.32,1082.7 451.27,1081.73 453.23,1081.55 455.18,1082.18 457.13,1083.59 459.08,1085.78 461.04,1088.72 462.99,1092.39 464.94,1096.75 466.89,1101.77 468.85,1107.41 470.8,1113.61 472.75,1120.33 474.7,1127.52 476.65,1135.11 478.61,1143.05 480.56,1151.28 482.51,1159.73 484.47,1168.35 486.42,1177.08 488.37,1185.85 490.32,1194.61 492.27,1203.3 494.23,1211.86 496.18,1220.24 498.13,1228.39 500.09,1236.27 502.04,1243.82 503.99,1251.02 505.94,1257.82 507.9,1264.19 509.85,1270.1 511.8,1275.53 513.75,1280.45 515.71,1284.85 517.66,1288.71 519.61,1292.01 521.56,1294.76 523.51,1296.94 525.47,1298.54 527.42,1299.57 529.37,1300.03 531.33,1299.92 533.28,1299.24 535.23,1298 537.18,1296.2 539.13,1293.85 541.09,1290.97 543.04,1287.55 544.99,1283.61 546.95,1279.16 548.9,1274.21 550.85,1268.77 552.8,1262.84 554.76,1256.44 556.71,1249.58 558.66,1242.27 560.61,1234.53 562.57,1226.35 564.52,1217.75 566.47,1208.75 568.42,1199.35 570.38,1189.57 572.33,1179.41 574.28,1168.89 576.23,1158.02 578.18,1146.81 580.14,1135.28 582.09,1123.43 584.04,1111.29 586,1098.86 587.95,1086.16 589.9,1073.22 591.85,1060.04 593.81,1046.64 595.76,1033.04 597.71,1019.26 599.66,1005.32 601.62,991.24 603.57,977.04 605.52,962.75 607.47,948.39 609.42,933.98 611.38,919.54 613.33,905.11 615.28,890.7 617.24,876.35 619.19,862.08 621.14,847.92 623.09,833.9 625.05,820.04 627,806.38 628.95,792.94 630.9,779.75 632.86,766.84 634.81,754.23 636.76,741.96 638.71,730.06 640.66,718.55 642.62,707.45 644.57,696.8 646.52,686.61 648.48,676.92 650.43,667.75 652.38,659.11 654.33,651.04 656.29,643.54 658.24,636.65 660.19,630.37 662.14,624.72 664.1,619.72 666.05,615.38 668,611.71 669.95,608.72 671.9,606.42 673.86,604.81 675.81,603.9 677.76,603.69 679.72,604.18 681.67,605.37 683.62,607.26 685.57,609.84 687.53,613.1 689.48,617.04 691.43,621.64 693.38,626.9 695.34,632.8 697.29,639.33 699.24,646.47 701.19,654.2 703.14,662.5 705.1,671.35 707.05,680.74 709,690.63 710.96,701 712.91,711.84 714.86,723.11 716.81,734.78 718.77,746.83 720.72,759.24 722.67,771.97 724.62,785 726.58,798.3 728.53,811.84 730.48,825.58 732.43,839.52 734.38,853.6 736.34,867.82 738.29,882.13 740.24,896.52 742.2,910.95 744.15,925.4 746.1,939.85 748.05,954.27 750,968.64 751.96,982.93 753.91,997.12 755.86,1011.19 757.82,1025.13 759.77,1038.91 761.72,1052.51 763.67,1065.92 765.62,1079.12 767.58,1092.1 769.53,1104.85 771.48,1117.34 773.44,1129.58 775.39,1141.55 777.34,1153.24 779.29,1164.65 781.25,1175.76 783.2,1186.57 785.15,1197.08 787.1,1207.29 789.06,1217.18 791.01,1226.76 792.96,1236.04 794.91,1244.99 796.87,1253.64 798.82,1261.97 800.77,1270 802.72,1277.72 804.68,1285.14 806.63,1292.26 808.58,1299.08 810.53,1305.62 812.48,1311.87 814.44,1317.85 816.39,1323.55 818.34,1328.99 820.3,1334.17 822.25,1339.1 824.2,1343.79 826.15,1348.24 828.11,1352.46 830.06,1356.46 832.01,1360.25 833.96,1363.83 835.92,1367.21 837.87,1370.41 839.82,1373.42 841.77,1376.25 843.73,1378.92 845.68,1381.42 847.63,1383.78 849.58,1385.99 851.53,1388.05 853.49,1389.99 855.44,1391.8 857.39,1393.5 859.35,1395.08 861.3,1396.55 863.25,1397.92 865.2,1399.2 867.16,1400.39 869.11,1401.49 871.06,1402.51 873.01,1403.46 874.97,1404.34 876.92,1405.16 878.87,1405.91 880.82,1406.6 882.77,1407.24 884.73,1407.83 886.68,1408.38 888.63,1408.88 890.59,1409.34 892.54,1409.76 894.49,1410.15 896.44,1410.5 898.39,1410.83 900.35,1411.12 902.3,1411.4"/>
<polyline stroke="#000000" stroke-width="7.5" fill="none" stroke-linejoin="round" points="297.02,1407.46 298.98,1406.69 300.93,1405.84 302.88,1404.91 304.83,1403.9 306.79,1402.79 308.74,1401.58 310.69,1400.26 312.64,1398.84 314.6,1397.29 316.55,1395.62 318.5,1393.83 320.45,1391.89 322.41,1389.82 324.36,1387.6 326.31,1385.23 328.26,1382.7 330.22,1380.01 332.17,1377.16 334.12,1374.15 336.07,1370.96 338.03,1367.61 339.98,1364.08 341.93,1360.39 343.88,1356.52 345.84,1352.49 347.79,1348.3 349.74,1343.95 351.69,1339.45 353.65,1334.8 355.6,1330.02 357.55,1325.11 359.5,1320.09 361.46,1314.97 363.41,1309.75 365.36,1304.46 367.31,1299.11 369.27,1293.72 371.22,1288.31 373.17,1282.89 375.12,1277.49 377.08,1272.13 379.03,1266.82 380.98,1261.59 382.94,1256.47 384.89,1251.47 386.84,1246.62 388.79,1241.93 390.75,1237.44 392.7,1233.16 394.65,1229.11 396.6,1225.32 398.56,1221.8 400.51,1218.57 402.46,1215.65 404.41,1213.05 406.37,1210.78 408.32,1208.86 410.27,1207.31 412.22,1206.11 414.17,1205.29 416.13,1204.84 418.08,1204.77 420.03,1205.08 421.99,1205.77 423.94,1206.82 425.89,1208.24 427.84,1210.01 429.79,1212.13 431.75,1214.59 433.7,1217.36 435.65,1220.43 437.6,1223.79 439.56,1227.41 441.51,1231.28 443.46,1235.38 445.41,1239.68 447.37,1244.15 449.32,1248.79 451.27,1253.56 453.23,1258.43 455.18,1263.39 457.13,1268.41 459.08,1273.46 461.03,1278.52 462.99,1283.57 464.94,1288.58 466.89,1293.54 468.84,1298.41 470.8,1303.19 472.75,1307.84 474.7,1312.35 476.65,1316.7 478.61,1320.88 480.56,1324.86 482.51,1328.64 484.46,1332.2 486.42,1335.52 488.37,1338.6 490.32,1341.42 492.27,1343.97 494.23,1346.24 496.18,1348.23 498.13,1349.93 500.09,1351.32 502.04,1352.41 503.99,1353.18 505.94,1353.63 507.89,1353.75 509.85,1353.54 511.8,1353 513.75,1352.12 515.7,1350.9 517.66,1349.32 519.61,1347.4 521.56,1345.12 523.51,1342.47 525.47,1339.47 527.42,1336.09 529.37,1332.35 531.33,1328.23 533.28,1323.72 535.23,1318.84 537.18,1313.57 539.13,1307.91 541.09,1301.85 543.04,1295.4 544.99,1288.55 546.95,1281.3 548.9,1273.65 550.85,1265.59 552.8,1257.13 554.75,1248.26 556.71,1238.98 558.66,1229.3 560.61,1219.21 562.57,1208.73 564.52,1197.85 566.47,1186.57 568.42,1174.91 570.38,1162.88 572.33,1150.46 574.28,1137.69 576.23,1124.57 578.18,1111.11 580.14,1097.32 582.09,1083.22 584.04,1068.83 586,1054.16 587.95,1039.23 589.9,1024.07 591.85,1008.69 593.81,993.12 595.76,977.39 597.71,961.52 599.66,945.53 601.62,929.47 603.57,913.35 605.52,897.21 607.47,881.08 609.42,865 611.38,849 613.33,833.11 615.28,817.38 617.24,801.83 619.19,786.5 621.14,771.43 623.09,756.65 625.05,742.22 627,728.15 628.95,714.48 630.9,701.26 632.86,688.51 634.81,676.28 636.76,664.59 638.71,653.48 640.66,642.97 642.62,633.1 644.57,623.9 646.52,615.39 648.48,607.59 650.43,600.53 652.38,594.24 654.33,588.72 656.28,583.99 658.24,580.08 660.19,576.98 662.14,574.72 664.1,573.29 666.05,572.7 668,572.95 669.95,574.04 671.9,575.98 673.86,578.74 675.81,582.33 677.76,586.73 679.72,591.94 681.67,597.92 683.62,604.68 685.57,612.18 687.53,620.41 689.48,629.34 691.43,638.95 693.38,649.2 695.34,660.07 697.29,671.54 699.24,683.56 701.19,696.1 703.14,709.14 705.1,722.63 707.05,736.55 709,750.84 710.95,765.49 712.91,780.45 714.86,795.68 716.81,811.15 718.76,826.82 720.72,842.65 722.67,858.62 724.62,874.68 726.58,890.8 728.53,906.94 730.48,923.08 732.43,939.18 734.38,955.22 736.34,971.15 738.29,986.96 740.24,1002.62 742.19,1018.1 744.15,1033.38 746.1,1048.43 748.05,1063.24 750,1077.79 751.96,1092.06 753.91,1106.03 755.86,1119.69 757.82,1133.02 759.77,1146.02 761.72,1158.68 763.67,1170.98 765.62,1182.91 767.58,1194.49 769.53,1205.69 771.48,1216.51 773.43,1226.97 775.39,1237.04 777.34,1246.74 779.29,1256.07 781.25,1265.03 783.2,1273.62 785.15,1281.84 787.1,1289.71 789.05,1297.23 791.01,1304.4 792.96,1311.24 794.91,1317.74 796.87,1323.93 798.82,1329.8 800.77,1335.36 802.72,1340.64 804.68,1345.62 806.63,1350.33 808.58,1354.78 810.53,1358.97 812.48,1362.92 814.44,1366.63 816.39,1370.11 818.34,1373.38 820.3,1376.45 822.25,1379.31 824.2,1381.99 826.15,1384.5 828.11,1386.83 830.06,1389 832.01,1391.03 833.96,1392.91 835.91,1394.66 837.87,1396.27 839.82,1397.77 841.77,1399.16 843.73,1400.45 845.68,1401.63 847.63,1402.72 849.58,1403.73 851.54,1404.65 853.49,1405.5 855.44,1406.29 857.39,1407 859.34,1407.66 861.3,1408.26 863.25,1408.81 865.2,1409.31 867.15,1409.76 869.11,1410.18 871.06,1410.56 873.01,1410.9 874.97,1411.22 876.92,1411.5 878.87,1411.76 880.82,1411.99 882.77,1412.2 884.73,1412.39 886.68,1412.56 888.63,1412.72 890.59,1412.85 892.54,1412.98 894.49,1413.09 896.44,1413.19 898.39,1413.28 900.35,1413.36 902.3,1413.44 904.25,1413.5 906.2,1413.56 908.16,1413.61 910.11,1413.65 912.06,1413.7 914.01,1413.73 915.97,1413.76 917.92,1413.79 919.87,1413.82 921.83,1413.84 923.78,1413.86 925.73,1413.88 927.68,1413.89 929.64,1413.91 931.59,1413.92 933.54,1413.93 935.49,1413.94 937.44,1413.95 939.4,1413.95 941.35,1413.96 943.3,1413.96 945.25,1413.97 947.21,1413.97 949.16,1413.98 951.11,1413.98 953.06,1413.98 955.02,1413.99 956.97,1413.99 958.92,1413.99 960.88,1413.99 962.83,1413.99 964.78,1413.99 966.73,1413.99 968.69,1413.99 970.64,1414 972.59,1414 974.54,1414 976.49,1414 978.45,1414 980.4,1414 982.35,1414 984.3,1414 986.26,1414 988.21,1414 990.16,1414 992.12,1414 994.07,1414 996.02,1414 997.97,1414 999.93,1414 1001.88,1414 1003.83,1414 1005.78,1414 1007.74,1414 1009.69,1414 1011.64,1414 1013.59,1414 1015.54,1414 1017.5,1414 1019.45,1414 1021.4,1414 1023.36,1414 1025.31,1414 1027.26,1414 1029.21,1414 1031.16,1414 1033.12,1414 1035.07,1414 1037.02,1414 1038.97,1414"/>
<path stroke="#000000" stroke-width="7.5" d="M1599 113.5H1746"/>
<path stroke="#ff0000" stroke-width="8" stroke-dasharray="32 12.4 8.8 12.6" d="M1599 190.2H1746"/>
<path stroke="#0000ff" stroke-width="8" stroke-linecap="round" stroke-dasharray="0.01 16.79" stroke-dashoffset="12.8" d="M1599 266.9H1746"/>
<path stroke="#008080" stroke-width="8" stroke-dasharray="50.5 20.2 12.8 20" d="M1599 343.6H1746"/>
<path stroke="#ff00ff" stroke-width="8" stroke-dasharray="37.3 22.2 10.5 22.3 10.5 22.2" d="M1599 420.3H1746"/>
<path stroke="#808000" stroke-width="8" stroke-dasharray="20.5 17.3" d="M1599 497H1746"/>
<path d="M665.9 566L894.61 319.04" stroke="#000000" stroke-width="1.4" stroke-opacity="0.65" fill="none"/>
<path d="M911.6 300.7L898.32 325.2L888.19 315.82Z" fill="#000000"/>
<path d="M696.5 639L883.68 450.54" stroke="#ff0000" stroke-width="1.4" stroke-opacity="0.65" fill="none"/>
<path d="M901.3 432.8L887.17 456.82L877.38 447.09Z" fill="#ff0000"/>
<path d="M820.3 761.3L978.03 581.11" stroke="#0000ff" stroke-width="1.4" stroke-opacity="0.65" fill="none"/>
<path d="M994.5 562.3L981.91 587.16L971.52 578.07Z" fill="#0000ff"/>
<path d="M945.4 754L987.73 704.07" stroke="#008000" stroke-width="1.4" stroke-opacity="0.65" fill="none"/>
<path d="M1003.9 685L991.7 710.06L981.18 701.13Z" fill="#008000"/>
<path d="M1267.1 1098L1528.94 856.07" stroke="#808040" stroke-width="1.4" stroke-opacity="0.65" fill="none"/>
<path d="M1547.3 839.1L1532.15 862.49L1522.79 852.36Z" fill="#808040"/>
<path d="M1464.9 1057.5L1516.73 1011.91" stroke="#ff00ff" stroke-width="1.4" stroke-opacity="0.65" fill="none"/>
<path d="M1535.5 995.4L1519.78 1018.41L1510.67 1008.05Z" fill="#ff00ff"/>
<text x="1100.4" y="1754.5" font-family="'Liberation Serif', 'Times New Roman', serif" font-size="87.5" textLength="104" lengthAdjust="spacing" fill="#000">(<tspan font-weight="bold">b</tspan>)</text>
<g stroke="#000" stroke-width="4.5" fill="none">
<path d="M277.5 2041.8V3395.5"/>
<path d="M253.5 3371.5H2232.2"/>
<path d="M253.5 3371.5H277.5M265.5 3260.88H277.5M253.5 3150.25H277.5M265.5 3039.62H277.5M253.5 2929H277.5M265.5 2818.38H277.5M253.5 2707.75H277.5M265.5 2597.12H277.5M253.5 2486.5H277.5M265.5 2375.88H277.5M253.5 2265.25H277.5M265.5 2154.62H277.5M253.5 2044H277.5M277.5 3371.5V3395.5M375.12 3371.5V3383.5M472.75 3371.5V3395.5M570.38 3371.5V3383.5M668 3371.5V3395.5M765.62 3371.5V3383.5M863.25 3371.5V3395.5M960.88 3371.5V3383.5M1058.5 3371.5V3395.5M1156.12 3371.5V3383.5M1253.75 3371.5V3395.5M1351.38 3371.5V3383.5M1449 3371.5V3395.5M1546.62 3371.5V3383.5M1644.25 3371.5V3395.5M1741.88 3371.5V3383.5M1839.5 3371.5V3395.5M1937.12 3371.5V3383.5M2034.75 3371.5V3395.5M2132.38 3371.5V3383.5M2230 3371.5V3395.5"/>
</g>
<g font-family="'Liberation Sans', Arial, Helvetica, sans-serif" font-weight="bold" font-size="54" fill="#000">
<text x="236" y="3387" text-anchor="end">0</text>
<text x="236" y="3165.75" text-anchor="end">5</text>
<text x="236" y="2944.5" text-anchor="end">10</text>
<text x="236" y="2723.25" text-anchor="end">15</text>
<text x="236" y="2502" text-anchor="end">20</text>
<text x="236" y="2280.75" text-anchor="end">25</text>
<text x="236" y="2059.5" text-anchor="end">30</text>
<text x="277.5" y="3455" text-anchor="middle">0.0</text>
<text x="472.75" y="3455" text-anchor="middle">0.5</text>
<text x="668" y="3455" text-anchor="middle">1.0</text>
<text x="863.25" y="3455" text-anchor="middle">1.5</text>
<text x="1058.5" y="3455" text-anchor="middle">2.0</text>
<text x="1253.75" y="3455" text-anchor="middle">2.5</text>
<text x="1449" y="3455" text-anchor="middle">3.0</text>
<text x="1644.25" y="3455" text-anchor="middle">3.5</text>
<text x="1839.5" y="3455" text-anchor="middle">4.0</text>
<text x="2034.75" y="3455" text-anchor="middle">4.5</text>
<text x="2230" y="3455" text-anchor="middle">5.0</text>
</g>
<polyline stroke="#808000" stroke-width="8" fill="none" stroke-linejoin="round" stroke-dasharray="20.5 17.3" points="297.02,3365.6 298.98,3365.34 300.93,3365.06 302.88,3364.77 304.83,3364.47 306.79,3364.15 308.74,3363.81 310.69,3363.45 312.64,3363.08 314.6,3362.69 316.55,3362.28 318.5,3361.85 320.45,3361.4 322.41,3360.92 324.36,3360.42 326.31,3359.9 328.26,3359.36 330.22,3358.79 332.17,3358.19 334.12,3357.57 336.07,3356.92 338.03,3356.23 339.98,3355.52 341.93,3354.78 343.88,3354.01 345.84,3353.2 347.79,3352.36 349.74,3351.49 351.69,3350.58 353.65,3349.63 355.6,3348.64 357.55,3347.62 359.5,3346.56 361.46,3345.46 363.41,3344.32 365.36,3343.13 367.31,3341.91 369.27,3340.64 371.22,3339.33 373.17,3337.97 375.12,3336.57 377.08,3335.12 379.03,3333.63 380.98,3332.09 382.94,3330.5 384.89,3328.87 386.84,3327.19 388.79,3325.46 390.75,3323.68 392.7,3321.86 394.65,3319.98 396.6,3318.06 398.56,3316.1 400.51,3314.08 402.46,3312.02 404.41,3309.91 406.37,3307.76 408.32,3305.56 410.27,3303.31 412.22,3301.02 414.17,3298.69 416.13,3296.32 418.08,3293.91 420.03,3291.45 421.99,3288.96 423.94,3286.44 425.89,3283.87 427.84,3281.28 429.8,3278.65 431.75,3275.99 433.7,3273.31 435.65,3270.6 437.61,3267.86 439.56,3265.11 441.51,3262.33 443.46,3259.54 445.41,3256.74 447.37,3253.92 449.32,3251.1 451.27,3248.27 453.23,3245.44 455.18,3242.61 457.13,3239.79 459.08,3236.97 461.03,3234.16 462.99,3231.36 464.94,3228.58 466.89,3225.82 468.85,3223.08 470.8,3220.37 472.75,3217.69 474.7,3215.04 476.65,3212.43 478.61,3209.86 480.56,3207.33 482.51,3204.85 484.47,3202.42 486.42,3200.04 488.37,3197.72 490.32,3195.45 492.27,3193.26 494.23,3191.12 496.18,3189.06 498.13,3187.07 500.09,3185.15 502.04,3183.31 503.99,3181.55 505.94,3179.87 507.9,3178.28 509.85,3176.77 511.8,3175.36 513.75,3174.03 515.7,3172.8 517.66,3171.67 519.61,3170.63 521.56,3169.69 523.52,3168.85 525.47,3168.1 527.42,3167.46 529.37,3166.93 531.33,3166.49 533.28,3166.16 535.23,3165.93 537.18,3165.82 539.13,3165.84 541.09,3165.98 543.04,3166.26 544.99,3166.67 546.95,3167.2 548.9,3167.86 550.85,3168.64 552.8,3169.54 554.76,3170.57 556.71,3171.7 558.66,3172.96 560.61,3174.32 562.57,3175.8 564.52,3177.38 566.47,3179.06 568.42,3180.83 570.38,3182.71 572.33,3184.67 574.28,3186.71 576.23,3188.84 578.19,3191.05 580.14,3193.32 582.09,3195.67 584.04,3198.08 586,3200.54 587.95,3203.07 589.9,3205.64 591.85,3208.25 593.81,3210.9 595.76,3213.59 597.71,3216.31 599.66,3219.05 601.62,3221.81 603.57,3224.59 605.52,3227.38 607.47,3230.18 609.42,3232.98 611.38,3235.78 613.33,3238.57 615.28,3241.35 617.24,3244.12 619.19,3246.86 621.14,3249.59 623.09,3252.3 625.05,3254.97 627,3257.61 628.95,3260.22 630.9,3262.79 632.86,3265.32 634.81,3267.81 636.76,3270.26 638.71,3272.65 640.66,3275 642.62,3277.3 644.57,3279.54 646.52,3281.73 648.48,3283.86 650.43,3285.94 652.38,3287.96 654.33,3289.92 656.29,3291.82 658.24,3293.66 660.19,3295.44 662.14,3297.17 664.1,3298.82 666.05,3300.42 668,3301.96 669.95,3303.44 671.9,3304.85 673.86,3306.21 675.81,3307.51 677.76,3308.75 679.72,3309.93 681.67,3311.05 683.62,3312.12 685.57,3313.13 687.53,3314.08 689.48,3314.99 691.43,3315.84 693.38,3316.63 695.34,3317.38 697.29,3318.08 699.24,3318.73 701.19,3319.34 703.14,3319.9 705.1,3320.41 707.05,3320.89 709,3321.32 710.96,3321.71 712.91,3322.06 714.86,3322.38 716.81,3322.66 718.77,3322.9 720.72,3323.11 722.67,3323.29 724.62,3323.43 726.58,3323.55 728.53,3323.64 730.48,3323.7 732.43,3323.73 734.38,3323.74 736.34,3323.73 738.29,3323.69 740.24,3323.63 742.2,3323.55 744.15,3323.44 746.1,3323.32 748.05,3323.18 750.01,3323.03 751.96,3322.85 753.91,3322.66 755.86,3322.46 757.82,3322.24 759.77,3322.01 761.72,3321.76 763.67,3321.51 765.62,3321.24 767.58,3320.96 769.53,3320.67 771.48,3320.37 773.43,3320.06 775.39,3319.74 777.34,3319.41 779.29,3319.08 781.25,3318.74 783.2,3318.39 785.15,3318.03 787.1,3317.67 789.06,3317.3 791.01,3316.93 792.96,3316.55 794.91,3316.17 796.87,3315.78 798.82,3315.39 800.77,3314.99 802.72,3314.59 804.68,3314.18 806.63,3313.77 808.58,3313.36 810.53,3312.95 812.49,3312.53 814.44,3312.1 816.39,3311.68 818.34,3311.25 820.3,3310.82 822.25,3310.39 824.2,3309.95 826.15,3309.52 828.11,3309.08 830.06,3308.64 832.01,3308.19 833.96,3307.75 835.92,3307.3 837.87,3306.85 839.82,3306.4 841.77,3305.95 843.73,3305.5 845.68,3305.04 847.63,3304.58 849.58,3304.13 851.53,3303.67 853.49,3303.21 855.44,3302.74 857.39,3302.28 859.35,3301.82 861.3,3301.35 863.25,3300.89 865.2,3300.42 867.16,3299.95 869.11,3299.48 871.06,3299.01 873.01,3298.54 874.97,3298.07 876.92,3297.6 878.87,3297.12 880.82,3296.65 882.77,3296.17 884.73,3295.7 886.68,3295.22 888.63,3294.75 890.59,3294.27 892.54,3293.79 894.49,3293.31 896.44,3292.83 898.39,3292.36 900.35,3291.88 902.3,3291.4 904.25,3290.92 906.21,3290.43 908.16,3289.95 910.11,3289.47 912.06,3288.99 914.02,3288.51 915.97,3288.03 917.92,3287.54 919.87,3287.06 921.83,3286.58 923.78,3286.1 925.73,3285.62 927.68,3285.13 929.63,3284.65 931.59,3284.17 933.54,3283.69 935.49,3283.2 937.45,3282.72 939.4,3282.24 941.35,3281.76 943.3,3281.28 945.26,3280.8 947.21,3280.31 949.16,3279.83 951.11,3279.35 953.06,3278.87 955.02,3278.4 956.97,3277.92 958.92,3277.44 960.88,3276.96 962.83,3276.48 964.78,3276.01 966.73,3275.53 968.69,3275.06 970.64,3274.58 972.59,3274.11 974.54,3273.63 976.5,3273.16 978.45,3272.69 980.4,3272.22 982.35,3271.75 984.31,3271.28 986.26,3270.81 988.21,3270.35 990.16,3269.88 992.12,3269.42 994.07,3268.95 996.02,3268.49 997.97,3268.03 999.93,3267.57 1001.88,3267.11 1003.83,3266.66 1005.78,3266.2 1007.74,3265.75 1009.69,3265.29 1011.64,3264.84 1013.59,3264.39 1015.55,3263.94 1017.5,3263.49 1019.45,3263.05 1021.4,3262.6 1023.36,3262.16 1025.31,3261.72 1027.26,3261.28 1029.21,3260.84 1031.16,3260.41 1033.12,3259.97 1035.07,3259.54 1037.02,3259.11 1038.97,3258.68 1040.93,3258.26 1042.88,3257.83 1044.83,3257.41 1046.79,3256.99 1048.74,3256.57 1050.69,3256.16 1052.64,3255.74 1054.6,3255.33 1056.55,3254.92 1058.5,3254.51 1060.45,3254.11 1062.41,3253.71 1064.36,3253.31 1066.31,3252.91 1068.26,3252.51 1070.21,3252.12 1072.17,3251.73 1074.12,3251.34 1076.07,3250.95 1078.03,3250.57 1079.98,3250.19 1081.93,3249.81 1083.88,3249.44 1085.84,3249.07 1087.79,3248.7 1089.74,3248.33 1091.69,3247.97 1093.64,3247.6 1095.6,3247.25 1097.55,3246.89 1099.5,3246.54 1101.45,3246.19 1103.41,3245.84 1105.36,3245.5 1107.31,3245.16 1109.26,3244.82 1111.22,3244.49 1113.17,3244.16 1115.12,3243.83 1117.07,3243.5 1119.03,3243.18 1120.98,3242.86 1122.93,3242.55 1124.88,3242.24 1126.84,3241.93 1128.79,3241.62 1130.74,3241.32 1132.69,3241.02 1134.65,3240.73 1136.6,3240.44 1138.55,3240.15 1140.51,3239.86 1142.46,3239.58 1144.41,3239.31 1146.36,3239.03 1148.32,3238.76 1150.27,3238.5 1152.22,3238.23 1154.17,3237.98 1156.12,3237.72 1158.08,3237.47 1160.03,3237.22 1161.98,3236.98 1163.93,3236.74 1165.89,3236.5 1167.84,3236.27 1169.79,3236.04 1171.74,3235.82 1173.7,3235.59 1175.65,3235.38 1177.6,3235.16 1179.56,3234.96 1181.51,3234.75 1183.46,3234.55 1185.41,3234.35 1187.37,3234.16 1189.32,3233.97 1191.27,3233.79 1193.22,3233.61 1195.17,3233.43 1197.13,3233.26 1199.08,3233.09 1201.03,3232.93 1202.99,3232.77 1204.94,3232.61 1206.89,3232.46 1208.84,3232.31 1210.79,3232.17 1212.75,3232.03 1214.7,3231.9 1216.65,3231.77 1218.61,3231.64 1220.56,3231.52 1222.51,3231.4 1224.46,3231.29 1226.41,3231.18 1228.37,3231.08 1230.32,3230.98 1232.27,3230.88 1234.22,3230.79 1236.18,3230.7 1238.13,3230.62 1240.08,3230.54 1242.04,3230.47 1243.99,3230.4 1245.94,3230.34 1247.89,3230.28 1249.84,3230.22 1251.8,3230.17 1253.75,3230.12 1255.7,3230.08 1257.65,3230.04 1259.61,3230.01 1261.56,3229.98 1263.51,3229.96 1265.47,3229.94 1267.42,3229.92 1269.37,3229.91 1271.32,3229.9 1273.28,3229.9 1275.23,3229.9 1277.18,3229.91 1279.13,3229.92 1281.09,3229.94 1283.04,3229.96 1284.99,3229.99 1286.94,3230.02 1288.89,3230.06 1290.85,3230.1 1292.8,3230.14 1294.75,3230.2 1296.7,3230.25 1298.66,3230.31 1300.61,3230.38 1302.56,3230.45 1304.51,3230.53 1306.47,3230.61 1308.42,3230.69 1310.37,3230.78 1312.33,3230.88 1314.28,3230.98 1316.23,3231.08 1318.18,3231.19 1320.13,3231.3 1322.09,3231.42 1324.04,3231.55 1325.99,3231.67 1327.94,3231.81 1329.9,3231.95 1331.85,3232.09 1333.8,3232.23 1335.75,3232.39 1337.71,3232.54 1339.66,3232.7 1341.61,3232.87 1343.57,3233.04 1345.52,3233.21 1347.47,3233.39 1349.42,3233.58 1351.38,3233.77 1353.33,3233.96 1355.28,3234.16 1357.23,3234.36 1359.18,3234.56 1361.14,3234.78 1363.09,3234.99 1365.04,3235.21 1366.99,3235.43 1368.95,3235.66 1370.9,3235.89 1372.85,3236.13 1374.81,3236.37 1376.76,3236.62 1378.71,3236.87 1380.66,3237.12 1382.62,3237.38 1384.57,3237.64 1386.52,3237.91 1388.47,3238.18 1390.42,3238.45 1392.38,3238.73 1394.33,3239.01 1396.28,3239.3 1398.24,3239.59 1400.19,3239.88 1402.14,3240.18 1404.09,3240.48 1406.04,3240.79 1408,3241.1 1409.95,3241.41 1411.9,3241.73 1413.85,3242.05 1415.81,3242.37 1417.76,3242.7 1419.71,3243.03 1421.66,3243.37 1423.62,3243.7 1425.57,3244.05 1427.52,3244.39 1429.47,3244.74 1431.43,3245.09 1433.38,3245.45 1435.33,3245.81 1437.29,3246.17 1439.24,3246.54 1441.19,3246.91 1443.14,3247.28 1445.09,3247.66 1447.05,3248.03 1449,3248.42 1450.95,3248.8 1452.9,3249.19 1454.86,3249.58 1456.81,3249.97 1458.76,3250.37 1460.72,3250.77 1462.67,3251.17 1464.62,3251.58 1466.57,3251.99 1468.52,3252.4 1470.48,3252.81 1472.43,3253.23 1474.38,3253.64 1476.34,3254.07 1478.29,3254.49 1480.24,3254.92 1482.19,3255.34 1484.14,3255.78 1486.1,3256.21 1488.05,3256.65 1490,3257.08 1491.95,3257.52 1493.91,3257.97 1495.86,3258.41 1497.81,3258.86 1499.76,3259.31 1501.72,3259.76 1503.67,3260.21 1505.62,3260.67 1507.58,3261.13 1509.53,3261.59 1511.48,3262.05 1513.43,3262.51 1515.38,3262.97 1517.34,3263.44 1519.29,3263.91 1521.24,3264.38 1523.19,3264.85 1525.15,3265.32 1527.1,3265.8 1529.05,3266.27 1531,3266.75 1532.96,3267.23 1534.91,3267.71 1536.86,3268.19 1538.82,3268.68 1540.77,3269.16 1542.72,3269.65 1544.67,3270.13 1546.62,3270.62 1548.58,3271.11 1550.53,3271.6 1552.48,3272.09 1554.43,3272.59 1556.39,3273.08 1558.34,3273.57 1560.29,3274.07 1562.24,3274.56 1564.2,3275.06 1566.15,3275.56 1568.1,3276.06 1570.06,3276.56 1572.01,3277.06 1573.96,3277.56 1575.91,3278.06 1577.87,3278.56 1579.82,3279.06 1581.77,3279.56 1583.72,3280.07 1585.67,3280.57 1587.63,3281.07 1589.58,3281.58 1591.53,3282.08 1593.49,3282.59 1595.44,3283.09 1597.39,3283.59 1599.34,3284.1 1601.29,3284.6 1603.25,3285.11 1605.2,3285.62 1607.15,3286.12 1609.1,3286.63 1611.06,3287.13 1613.01,3287.64 1614.96,3288.14 1616.91,3288.65 1618.87,3289.15 1620.82,3289.65 1622.77,3290.16 1624.72,3290.66 1626.68,3291.16 1628.63,3291.67 1630.58,3292.17 1632.54,3292.67 1634.49,3293.17 1636.44,3293.68 1638.39,3294.18 1640.34,3294.68 1642.3,3295.18 1644.25,3295.67 1646.2,3296.17 1648.15,3296.67 1650.11,3297.17 1652.06,3297.66 1654.01,3298.16 1655.97,3298.65 1657.92,3299.15 1659.87,3299.64 1661.82,3300.13 1663.77,3300.62 1665.73,3301.11 1667.68,3301.6 1669.63,3302.09 1671.59,3302.58 1673.54,3303.06 1675.49,3303.55 1677.44,3304.03 1679.39,3304.51 1681.35,3304.99 1683.3,3305.48 1685.25,3305.95 1687.2,3306.43 1689.16,3306.91 1691.11,3307.38 1693.06,3307.86 1695.01,3308.33 1696.97,3308.8 1698.92,3309.27 1700.87,3309.74 1702.83,3310.21 1704.78,3310.67 1706.73,3311.14 1708.68,3311.6 1710.63,3312.06 1712.59,3312.52 1714.54,3312.98 1716.49,3313.44 1718.44,3313.89 1720.4,3314.35 1722.35,3314.8 1724.3,3315.25 1726.25,3315.7 1728.21,3316.15 1730.16,3316.59 1732.11,3317.04 1734.07,3317.48 1736.02,3317.92 1737.97,3318.36 1739.92,3318.79 1741.88,3319.23 1743.83,3319.66 1745.78,3320.09 1747.73,3320.52 1749.68,3320.95 1751.64,3321.38 1753.59,3321.8 1755.54,3322.22 1757.49,3322.64 1759.45,3323.06 1761.4,3323.48 1763.35,3323.89 1765.31,3324.3 1767.26,3324.71 1769.21,3325.12 1771.16,3325.53 1773.12,3325.93 1775.07,3326.34 1777.02,3326.74 1778.97,3327.14 1780.92,3327.53 1782.88,3327.93 1784.83,3328.32 1786.78,3328.71 1788.74,3329.1 1790.69,3329.48 1792.64,3329.87 1794.59,3330.25 1796.55,3330.63 1798.5,3331.01 1800.45,3331.38 1802.4,3331.76 1804.35,3332.13 1806.31,3332.5 1808.26,3332.87 1810.21,3333.23 1812.16,3333.6 1814.12,3333.96 1816.07,3334.31 1818.02,3334.67 1819.97,3335.03 1821.93,3335.38 1823.88,3335.73 1825.83,3336.08 1827.79,3336.42 1829.74,3336.77 1831.69,3337.11 1833.64,3337.45 1835.6,3337.78 1837.55,3338.12 1839.5,3338.45 1841.45,3338.78 1843.4,3339.11 1845.36,3339.44 1847.31,3339.76 1849.26,3340.08 1851.22,3340.4 1853.17,3340.72 1855.12,3341.03 1857.07,3341.35 1859.02,3341.66 1860.98,3341.97 1862.93,3342.27 1864.88,3342.58 1866.84,3342.88 1868.79,3343.18 1870.74,3343.48 1872.69,3343.77 1874.64,3344.07 1876.6,3344.36 1878.55,3344.65 1880.5,3344.93 1882.46,3345.22 1884.41,3345.5 1886.36,3345.78 1888.31,3346.06 1890.26,3346.34 1892.22,3346.61 1894.17,3346.88 1896.12,3347.15 1898.07,3347.42 1900.03,3347.69 1901.98,3347.95 1903.93,3348.21 1905.88,3348.47 1907.84,3348.73 1909.79,3348.98 1911.74,3349.23 1913.7,3349.49 1915.65,3349.73 1917.6,3349.98 1919.55,3350.23 1921.5,3350.47 1923.46,3350.71 1925.41,3350.95 1927.36,3351.18 1929.31,3351.42 1931.27,3351.65 1933.22,3351.88 1935.17,3352.11 1937.12,3352.34 1939.08,3352.56 1941.03,3352.78 1942.98,3353 1944.93,3353.22 1946.89,3353.44 1948.84,3353.65 1950.79,3353.87 1952.75,3354.08 1954.7,3354.29 1956.65,3354.49 1958.6,3354.7 1960.56,3354.9 1962.51,3355.1 1964.46,3355.3 1966.41,3355.5 1968.37,3355.69 1970.32,3355.89 1972.27,3356.08 1974.22,3356.27 1976.17,3356.46 1978.13,3356.65 1980.08,3356.83 1982.03,3357.01 1983.99,3357.19 1985.94,3357.37 1987.89,3357.55 1989.84,3357.73 1991.8,3357.9 1993.75,3358.07 1995.7,3358.24 1997.65,3358.41 1999.61,3358.58 2001.56,3358.74 2003.51,3358.91 2005.46,3359.07 2007.41,3359.23 2009.37,3359.39 2011.32,3359.55 2013.27,3359.7 2015.23,3359.86 2017.18,3360.01 2019.13,3360.16 2021.08,3360.31 2023.03,3360.46 2024.99,3360.6 2026.94,3360.75 2028.89,3360.89 2030.85,3361.03 2032.8,3361.17 2034.75,3361.31 2036.7,3361.45 2038.66,3361.58 2040.61,3361.71 2042.56,3361.85 2044.51,3361.98 2046.46,3362.11 2048.42,3362.24 2050.37,3362.36 2052.32,3362.49 2054.27,3362.61 2056.23,3362.73 2058.18,3362.85 2060.13,3362.97 2062.09,3363.09 2064.04,3363.21 2065.99,3363.32 2067.94,3363.44 2069.89,3363.55 2071.85,3363.66 2073.8,3363.77 2075.75,3363.88 2077.7,3363.99 2079.66,3364.1 2081.61,3364.2 2083.56,3364.31 2085.51,3364.41 2087.47,3364.51 2089.42,3364.61 2091.37,3364.71 2093.32,3364.81 2095.28,3364.9 2097.23,3365 2099.18,3365.09 2101.14,3365.19 2103.09,3365.28 2105.04,3365.37 2106.99,3365.46 2108.95,3365.55 2110.9,3365.64 2112.85,3365.72 2114.8,3365.81 2116.76,3365.89 2118.71,3365.98 2120.66,3366.06 2122.61,3366.14 2124.56,3366.22 2126.52,3366.3 2128.47,3366.38 2130.42,3366.45 2132.38,3366.53 2134.33,3366.6 2136.28,3366.68 2138.23,3366.75 2140.18,3366.82 2142.14,3366.9 2144.09,3366.97 2146.04,3367.04 2147.99,3367.1 2149.95,3367.17 2151.9,3367.24 2153.85,3367.3 2155.81,3367.37 2157.76,3367.43 2159.71,3367.5 2161.66,3367.56 2163.61,3367.62 2165.57,3367.68 2167.52,3367.74 2169.47,3367.8 2171.43,3367.86 2173.38,3367.92 2175.33,3367.97 2177.28,3368.03 2179.24,3368.09 2181.19,3368.14 2183.14,3368.19 2185.09,3368.25 2187.05,3368.3 2189,3368.35 2190.95,3368.4 2192.9,3368.45 2194.86,3368.5 2196.81,3368.55 2198.76,3368.6 2200.71,3368.64 2202.66,3368.69 2204.62,3368.74 2206.57,3368.78 2208.52,3368.83 2210.48,3368.87 2212.43,3368.91 2214.38,3368.96 2216.33,3369 2218.28,3369.04 2220.24,3369.08 2222.19,3369.12 2224.14,3369.16 2226.1,3369.2 2228.05,3369.24 2230,3369.28"/>
<polyline stroke="#ff00ff" stroke-width="8" fill="none" stroke-linejoin="round" stroke-dasharray="37.3 22.2 10.5 22.3 10.5 22.2" points="297.02,3366.68 298.98,3366.31 300.93,3365.9 302.88,3365.48 304.83,3365.02 306.79,3364.53 308.74,3364.01 310.69,3363.46 312.64,3362.88 314.6,3362.25 316.55,3361.59 318.5,3360.89 320.45,3360.15 322.41,3359.37 324.36,3358.54 326.31,3357.66 328.26,3356.74 330.22,3355.76 332.17,3354.73 334.12,3353.65 336.07,3352.51 338.03,3351.31 339.98,3350.05 341.93,3348.73 343.88,3347.34 345.84,3345.88 347.79,3344.36 349.74,3342.77 351.69,3341.1 353.65,3339.36 355.6,3337.55 357.55,3335.66 359.5,3333.68 361.46,3331.63 363.41,3329.5 365.36,3327.28 367.31,3324.98 369.27,3322.59 371.22,3320.12 373.17,3317.56 375.12,3314.91 377.08,3312.17 379.03,3309.35 380.98,3306.43 382.94,3303.43 384.89,3300.33 386.84,3297.15 388.79,3293.88 390.75,3290.52 392.7,3287.08 394.65,3283.55 396.6,3279.94 398.56,3276.25 400.51,3272.47 402.46,3268.62 404.41,3264.7 406.37,3260.7 408.32,3256.64 410.27,3252.5 412.22,3248.31 414.17,3244.05 416.13,3239.75 418.08,3235.39 420.03,3230.98 421.99,3226.54 423.94,3222.06 425.89,3217.55 427.84,3213.01 429.8,3208.45 431.75,3203.88 433.7,3199.3 435.65,3194.73 437.61,3190.15 439.56,3185.59 441.51,3181.05 443.46,3176.53 445.41,3172.04 447.37,3167.6 449.32,3163.2 451.27,3158.85 453.23,3154.57 455.18,3150.35 457.13,3146.21 459.08,3142.16 461.03,3138.19 462.99,3134.32 464.94,3130.56 466.89,3126.9 468.85,3123.37 470.8,3119.96 472.75,3116.68 474.7,3113.54 476.65,3110.54 478.61,3107.7 480.56,3105.01 482.51,3102.48 484.47,3100.11 486.42,3097.92 488.37,3095.9 490.32,3094.06 492.27,3092.41 494.23,3090.94 496.18,3089.66 498.13,3088.57 500.09,3087.68 502.04,3086.98 503.99,3086.49 505.94,3086.19 507.9,3086.09 509.85,3086.18 511.8,3086.45 513.75,3086.91 515.7,3087.55 517.66,3088.38 519.61,3089.38 521.56,3090.56 523.52,3091.91 525.47,3093.44 527.42,3095.13 529.37,3097 531.33,3099.02 533.28,3101.21 535.23,3103.55 537.18,3106.04 539.13,3108.68 541.09,3111.46 543.04,3114.37 544.99,3117.42 546.95,3120.59 548.9,3123.88 550.85,3127.29 552.8,3130.8 554.76,3134.42 556.71,3138.13 558.66,3141.93 560.61,3145.82 562.57,3149.78 564.52,3153.81 566.47,3157.91 568.42,3162.07 570.38,3166.27 572.33,3170.53 574.28,3174.82 576.23,3179.14 578.19,3183.49 580.14,3187.86 582.09,3192.24 584.04,3196.63 586,3201.02 587.95,3205.41 589.9,3209.8 591.85,3214.16 593.81,3218.51 595.76,3222.83 597.71,3227.13 599.66,3231.39 601.62,3235.61 603.57,3239.79 605.52,3243.92 607.47,3248.01 609.42,3252.04 611.38,3256.01 613.33,3259.92 615.28,3263.77 617.24,3267.56 619.19,3271.27 621.14,3274.91 623.09,3278.49 625.05,3281.98 627,3285.41 628.95,3288.75 630.9,3292.02 632.86,3295.2 634.81,3298.31 636.76,3301.33 638.71,3304.27 640.66,3307.13 642.62,3309.91 644.57,3312.61 646.52,3315.22 648.48,3317.76 650.43,3320.21 652.38,3322.58 654.33,3324.87 656.29,3327.09 658.24,3329.22 660.19,3331.28 662.14,3333.26 664.1,3335.17 666.05,3337.01 668,3338.77 669.95,3340.47 671.9,3342.09 673.86,3343.65 675.81,3345.14 677.76,3346.57 679.72,3347.94 681.67,3349.24 683.62,3350.49 685.57,3351.68 687.53,3352.81 689.48,3353.9 691.43,3354.92 693.38,3355.9 695.34,3356.83 697.29,3357.72 699.24,3358.56 701.19,3359.35 703.14,3360.11 705.1,3360.82 707.05,3361.5 709,3362.14 710.96,3362.74 712.91,3363.31 714.86,3363.85 716.81,3364.36 718.77,3364.83 720.72,3365.28 722.67,3365.71 724.62,3366.1 726.58,3366.48 728.53,3366.83 730.48,3367.16 732.43,3367.47 734.38,3367.76 736.34,3368.03 738.29,3368.28 740.24,3368.52 742.2,3368.74 744.15,3368.94 746.1,3369.14 748.05,3369.31 750.01,3369.48 751.96,3369.64 753.91,3369.78 755.86,3369.91 757.82,3370.04 759.77,3370.15 761.72,3370.26 763.67,3370.36 765.62,3370.45 767.58,3370.54 769.53,3370.61 771.48,3370.69 773.43,3370.75 775.39,3370.81 777.34,3370.87 779.29,3370.92 781.25,3370.97 783.2,3371.01 785.15,3371.05 787.1,3371.09 789.06,3371.12 791.01,3371.15 792.96,3371.18 794.91,3371.2 796.87,3371.22 798.82,3371.24 800.77,3371.26 802.72,3371.28 804.68,3371.29 806.63,3371.3 808.58,3371.31 810.53,3371.32 812.49,3371.32 814.44,3371.33 816.39,3371.33 818.34,3371.33 820.3,3371.33 822.25,3371.33 824.2,3371.33 826.15,3371.32 828.11,3371.32 830.06,3371.31 832.01,3371.3 833.96,3371.29 835.92,3371.28 837.87,3371.26 839.82,3371.24 841.77,3371.23 843.73,3371.21 845.68,3371.18 847.63,3371.16 849.58,3371.13 851.53,3371.1 853.49,3371.07 855.44,3371.03 857.39,3370.99 859.35,3370.95 861.3,3370.9 863.25,3370.86 865.2,3370.8 867.16,3370.74 869.11,3370.68 871.06,3370.61 873.01,3370.54 874.97,3370.46 876.92,3370.38 878.87,3370.29 880.82,3370.19 882.77,3370.09 884.73,3369.98 886.68,3369.86 888.63,3369.73 890.59,3369.59 892.54,3369.45 894.49,3369.29 896.44,3369.12 898.39,3368.94 900.35,3368.75 902.3,3368.55 904.25,3368.33 906.21,3368.1 908.16,3367.85 910.11,3367.59 912.06,3367.31 914.02,3367.01 915.97,3366.69 917.92,3366.36 919.87,3366 921.83,3365.62 923.78,3365.22 925.73,3364.8 927.68,3364.35 929.63,3363.87 931.59,3363.37 933.54,3362.84 935.49,3362.28 937.45,3361.68 939.4,3361.06 941.35,3360.4 943.3,3359.7 945.26,3358.97 947.21,3358.2 949.16,3357.39 951.11,3356.54 953.06,3355.64 955.02,3354.7 956.97,3353.72 958.92,3352.68 960.88,3351.6 962.83,3350.46 964.78,3349.27 966.73,3348.03 968.69,3346.73 970.64,3345.37 972.59,3343.95 974.54,3342.47 976.5,3340.92 978.45,3339.31 980.4,3337.63 982.35,3335.88 984.31,3334.06 986.26,3332.17 988.21,3330.21 990.16,3328.17 992.12,3326.05 994.07,3323.86 996.02,3321.58 997.97,3319.23 999.93,3316.79 1001.88,3314.26 1003.83,3311.66 1005.78,3308.96 1007.74,3306.18 1009.69,3303.31 1011.64,3300.35 1013.59,3297.3 1015.55,3294.16 1017.5,3290.93 1019.45,3287.61 1021.4,3284.2 1023.36,3280.69 1025.31,3277.1 1027.26,3273.41 1029.21,3269.63 1031.16,3265.76 1033.12,3261.81 1035.07,3257.76 1037.02,3253.62 1038.97,3249.4 1040.93,3245.1 1042.88,3240.71 1044.83,3236.23 1046.79,3231.68 1048.74,3227.05 1050.69,3222.35 1052.64,3217.57 1054.6,3212.72 1056.55,3207.8 1058.5,3202.82 1060.45,3197.78 1062.41,3192.68 1064.36,3187.53 1066.31,3182.32 1068.26,3177.08 1070.21,3171.79 1072.17,3166.46 1074.12,3161.1 1076.07,3155.71 1078.03,3150.3 1079.98,3144.88 1081.93,3139.44 1083.88,3133.99 1085.84,3128.54 1087.79,3123.1 1089.74,3117.67 1091.69,3112.25 1093.64,3106.86 1095.6,3101.5 1097.55,3096.17 1099.5,3090.88 1101.45,3085.64 1103.41,3080.45 1105.36,3075.32 1107.31,3070.26 1109.26,3065.28 1111.22,3060.37 1113.17,3055.55 1115.12,3050.82 1117.07,3046.19 1119.03,3041.66 1120.98,3037.25 1122.93,3032.95 1124.88,3028.78 1126.84,3024.74 1128.79,3020.83 1130.74,3017.06 1132.69,3013.44 1134.65,3009.97 1136.6,3006.66 1138.55,3003.51 1140.51,3000.52 1142.46,2997.71 1144.41,2995.07 1146.36,2992.61 1148.32,2990.33 1150.27,2988.24 1152.22,2986.34 1154.17,2984.62 1156.12,2983.11 1158.08,2981.79 1160.03,2980.67 1161.98,2979.75 1163.93,2979.04 1165.89,2978.53 1167.84,2978.22 1169.79,2978.12 1171.74,2978.22 1173.7,2978.53 1175.65,2979.04 1177.6,2979.75 1179.56,2980.67 1181.51,2981.79 1183.46,2983.11 1185.41,2984.62 1187.37,2986.34 1189.32,2988.24 1191.27,2990.33 1193.22,2992.61 1195.17,2995.07 1197.13,2997.71 1199.08,3000.52 1201.03,3003.51 1202.99,3006.66 1204.94,3009.97 1206.89,3013.44 1208.84,3017.06 1210.79,3020.83 1212.75,3024.74 1214.7,3028.78 1216.65,3032.95 1218.61,3037.25 1220.56,3041.66 1222.51,3046.19 1224.46,3050.82 1226.41,3055.55 1228.37,3060.37 1230.32,3065.28 1232.27,3070.26 1234.22,3075.32 1236.18,3080.45 1238.13,3085.64 1240.08,3090.88 1242.04,3096.17 1243.99,3101.5 1245.94,3106.86 1247.89,3112.25 1249.84,3117.67 1251.8,3123.1 1253.75,3128.54 1255.7,3133.99 1257.65,3139.44 1259.61,3144.88 1261.56,3150.3 1263.51,3155.71 1265.47,3161.1 1267.42,3166.46 1269.37,3171.79 1271.32,3177.08 1273.28,3182.32 1275.23,3187.53 1277.18,3192.68 1279.13,3197.78 1281.09,3202.82 1283.04,3207.8 1284.99,3212.72 1286.94,3217.57 1288.89,3222.35 1290.85,3227.05 1292.8,3231.68 1294.75,3236.23 1296.7,3240.71 1298.66,3245.1 1300.61,3249.4 1302.56,3253.62 1304.51,3257.76 1306.47,3261.81 1308.42,3265.76 1310.37,3269.63 1312.33,3273.41 1314.28,3277.1 1316.23,3280.69 1318.18,3284.2 1320.13,3287.61 1322.09,3290.93 1324.04,3294.16 1325.99,3297.3 1327.94,3300.35 1329.9,3303.31 1331.85,3306.18 1333.8,3308.96 1335.75,3311.66 1337.71,3314.26 1339.66,3316.79 1341.61,3319.23 1343.57,3321.58 1345.52,3323.86 1347.47,3326.05 1349.42,3328.17 1351.38,3330.21 1353.33,3332.17 1355.28,3334.06 1357.23,3335.88 1359.18,3337.63 1361.14,3339.31 1363.09,3340.92 1365.04,3342.47 1366.99,3343.95 1368.95,3345.37 1370.9,3346.73 1372.85,3348.03 1374.81,3349.27 1376.76,3350.46 1378.71,3351.6 1380.66,3352.68 1382.62,3353.72 1384.57,3354.7 1386.52,3355.64 1388.47,3356.54 1390.42,3357.39 1392.38,3358.2 1394.33,3358.97 1396.28,3359.7 1398.24,3360.4 1400.19,3361.06 1402.14,3361.68 1404.09,3362.28 1406.04,3362.84 1408,3363.37 1409.95,3363.87 1411.9,3364.35 1413.85,3364.8 1415.81,3365.22 1417.76,3365.62 1419.71,3366 1421.66,3366.36 1423.62,3366.69 1425.57,3367.01 1427.52,3367.31 1429.47,3367.59 1431.43,3367.85 1433.38,3368.1 1435.33,3368.33 1437.29,3368.55 1439.24,3368.75 1441.19,3368.94 1443.14,3369.12 1445.09,3369.29 1447.05,3369.45 1449,3369.59 1450.95,3369.73 1452.9,3369.86 1454.86,3369.98 1456.81,3370.09 1458.76,3370.2 1460.72,3370.29 1462.67,3370.38 1464.62,3370.47 1466.57,3370.55 1468.52,3370.62 1470.48,3370.69 1472.43,3370.75 1474.38,3370.81 1476.34,3370.86 1478.29,3370.91 1480.24,3370.96 1482.19,3371 1484.14,3371.04 1486.1,3371.08 1488.05,3371.11 1490,3371.14 1491.95,3371.17 1493.91,3371.2 1495.86,3371.23 1497.81,3371.25 1499.76,3371.27 1501.72,3371.29 1503.67,3371.31 1505.62,3371.32 1507.58,3371.34 1509.53,3371.35 1511.48,3371.37 1513.43,3371.38 1515.38,3371.39 1517.34,3371.4 1519.29,3371.41 1521.24,3371.42 1523.19,3371.42 1525.15,3371.43 1527.1,3371.44 1529.05,3371.44 1531,3371.45 1532.96,3371.45 1534.91,3371.46 1536.86,3371.46 1538.82,3371.46 1540.77,3371.47 1542.72,3371.47 1544.67,3371.47 1546.62,3371.48 1548.58,3371.48 1550.53,3371.48 1552.48,3371.48 1554.43,3371.48 1556.39,3371.49 1558.34,3371.49 1560.29,3371.49 1562.24,3371.49 1564.2,3371.49 1566.15,3371.49 1568.1,3371.49 1570.06,3371.49 1572.01,3371.49 1573.96,3371.49 1575.91,3371.5 1577.87,3371.5 1579.82,3371.5 1581.77,3371.5 1583.72,3371.5 1585.67,3371.5 1587.63,3371.5 1589.58,3371.5 1591.53,3371.5 1593.49,3371.5 1595.44,3371.5 1597.39,3371.5 1599.34,3371.5 1601.29,3371.5 1603.25,3371.5 1605.2,3371.5 1607.15,3371.5 1609.1,3371.5 1611.06,3371.5 1613.01,3371.5 1614.96,3371.5 1616.91,3371.5 1618.87,3371.5 1620.82,3371.5 1622.77,3371.5 1624.72,3371.5 1626.68,3371.5 1628.63,3371.5 1630.58,3371.5 1632.54,3371.5 1634.49,3371.5 1636.44,3371.5 1638.39,3371.5 1640.34,3371.5 1642.3,3371.5 1644.25,3371.5 1646.2,3371.5 1648.15,3371.5 1650.11,3371.5 1652.06,3371.5 1654.01,3371.5 1655.97,3371.5 1657.92,3371.5 1659.87,3371.5 1661.82,3371.5 1663.77,3371.5 1665.73,3371.5 1667.68,3371.5 1669.63,3371.5 1671.59,3371.5 1673.54,3371.5 1675.49,3371.5 1677.44,3371.5 1679.39,3371.5 1681.35,3371.5 1683.3,3371.5 1685.25,3371.5 1687.2,3371.5 1689.16,3371.5 1691.11,3371.5 1693.06,3371.5 1695.01,3371.5 1696.97,3371.5 1698.92,3371.5 1700.87,3371.5 1702.83,3371.5 1704.78,3371.5 1706.73,3371.5 1708.68,3371.5 1710.63,3371.5 1712.59,3371.5 1714.54,3371.5 1716.49,3371.5 1718.44,3371.5 1720.4,3371.5 1722.35,3371.5 1724.3,3371.5 1726.25,3371.5 1728.21,3371.5 1730.16,3371.5 1732.11,3371.5 1734.07,3371.5 1736.02,3371.5 1737.97,3371.5 1739.92,3371.5 1741.88,3371.5 1743.83,3371.5 1745.78,3371.5 1747.73,3371.5 1749.68,3371.5 1751.64,3371.5 1753.59,3371.5 1755.54,3371.5 1757.49,3371.5 1759.45,3371.5 1761.4,3371.5 1763.35,3371.5 1765.31,3371.5 1767.26,3371.5 1769.21,3371.5 1771.16,3371.5 1773.12,3371.5 1775.07,3371.5 1777.02,3371.5 1778.97,3371.5 1780.92,3371.5 1782.88,3371.5 1784.83,3371.5 1786.78,3371.5 1788.74,3371.5 1790.69,3371.5 1792.64,3371.5 1794.59,3371.5 1796.55,3371.5 1798.5,3371.5 1800.45,3371.5 1802.4,3371.5 1804.35,3371.5 1806.31,3371.5 1808.26,3371.5 1810.21,3371.5 1812.16,3371.5 1814.12,3371.5 1816.07,3371.5 1818.02,3371.5 1819.97,3371.5 1821.93,3371.5 1823.88,3371.5 1825.83,3371.5 1827.79,3371.5 1829.74,3371.5 1831.69,3371.5 1833.64,3371.5 1835.6,3371.5 1837.55,3371.5 1839.5,3371.5 1841.45,3371.5 1843.4,3371.5 1845.36,3371.5 1847.31,3371.5 1849.26,3371.5 1851.22,3371.5 1853.17,3371.5 1855.12,3371.5 1857.07,3371.5 1859.02,3371.5 1860.98,3371.5 1862.93,3371.5 1864.88,3371.5 1866.84,3371.5 1868.79,3371.5 1870.74,3371.5 1872.69,3371.5 1874.64,3371.5 1876.6,3371.5 1878.55,3371.5 1880.5,3371.5 1882.46,3371.5 1884.41,3371.5 1886.36,3371.5 1888.31,3371.5 1890.26,3371.5 1892.22,3371.5 1894.17,3371.5 1896.12,3371.5 1898.07,3371.5 1900.03,3371.5 1901.98,3371.5 1903.93,3371.5 1905.88,3371.5 1907.84,3371.5 1909.79,3371.5 1911.74,3371.5 1913.7,3371.5 1915.65,3371.5 1917.6,3371.5 1919.55,3371.5 1921.5,3371.5 1923.46,3371.5 1925.41,3371.5 1927.36,3371.5 1929.31,3371.5 1931.27,3371.5 1933.22,3371.5 1935.17,3371.5 1937.12,3371.5 1939.08,3371.5 1941.03,3371.5 1942.98,3371.5 1944.93,3371.5 1946.89,3371.5 1948.84,3371.5 1950.79,3371.5 1952.75,3371.5 1954.7,3371.5 1956.65,3371.5 1958.6,3371.5 1960.56,3371.5 1962.51,3371.5 1964.46,3371.5 1966.41,3371.5 1968.37,3371.5 1970.32,3371.5 1972.27,3371.5 1974.22,3371.5 1976.17,3371.5 1978.13,3371.5 1980.08,3371.5 1982.03,3371.5 1983.99,3371.5 1985.94,3371.5 1987.89,3371.5 1989.84,3371.5 1991.8,3371.5 1993.75,3371.5 1995.7,3371.5 1997.65,3371.5 1999.61,3371.5 2001.56,3371.5 2003.51,3371.5 2005.46,3371.5 2007.41,3371.5 2009.37,3371.5 2011.32,3371.5 2013.27,3371.5 2015.23,3371.5 2017.18,3371.5 2019.13,3371.5 2021.08,3371.5 2023.03,3371.5 2024.99,3371.5 2026.94,3371.5 2028.89,3371.5 2030.85,3371.5 2032.8,3371.5 2034.75,3371.5 2036.7,3371.5 2038.66,3371.5 2040.61,3371.5 2042.56,3371.5 2044.51,3371.5 2046.46,3371.5 2048.42,3371.5 2050.37,3371.5 2052.32,3371.5 2054.27,3371.5 2056.23,3371.5 2058.18,3371.5 2060.13,3371.5 2062.09,3371.5 2064.04,3371.5 2065.99,3371.5 2067.94,3371.5 2069.89,3371.5 2071.85,3371.5 2073.8,3371.5 2075.75,3371.5 2077.7,3371.5 2079.66,3371.5 2081.61,3371.5 2083.56,3371.5 2085.51,3371.5 2087.47,3371.5 2089.42,3371.5 2091.37,3371.5 2093.32,3371.5 2095.28,3371.5 2097.23,3371.5 2099.18,3371.5 2101.14,3371.5 2103.09,3371.5 2105.04,3371.5 2106.99,3371.5 2108.95,3371.5 2110.9,3371.5 2112.85,3371.5 2114.8,3371.5 2116.76,3371.5 2118.71,3371.5 2120.66,3371.5 2122.61,3371.5 2124.56,3371.5 2126.52,3371.5 2128.47,3371.5 2130.42,3371.5 2132.38,3371.5 2134.33,3371.5 2136.28,3371.5 2138.23,3371.5 2140.18,3371.5 2142.14,3371.5 2144.09,3371.5 2146.04,3371.5 2147.99,3371.5 2149.95,3371.5 2151.9,3371.5 2153.85,3371.5 2155.81,3371.5 2157.76,3371.5 2159.71,3371.5 2161.66,3371.5 2163.61,3371.5 2165.57,3371.5 2167.52,3371.5 2169.47,3371.5 2171.43,3371.5 2173.38,3371.5 2175.33,3371.5 2177.28,3371.5 2179.24,3371.5 2181.19,3371.5 2183.14,3371.5 2185.09,3371.5 2187.05,3371.5 2189,3371.5 2190.95,3371.5 2192.9,3371.5 2194.86,3371.5 2196.81,3371.5 2198.76,3371.5 2200.71,3371.5 2202.66,3371.5 2204.62,3371.5 2206.57,3371.5 2208.52,3371.5 2210.48,3371.5 2212.43,3371.5 2214.38,3371.5 2216.33,3371.5 2218.28,3371.5 2220.24,3371.5 2222.19,3371.5 2224.14,3371.5 2226.1,3371.5 2228.05,3371.5 2230,3371.5"/>
<polyline stroke="#008080" stroke-width="8" fill="none" stroke-linejoin="round" stroke-dasharray="50.5 20.2 12.8 20" points="452.05,3132.82 454,3133 455.96,3133.22 457.91,3133.49 459.86,3133.81 461.81,3134.17 463.76,3134.58 465.71,3135.03 467.66,3135.52 469.61,3136.06 471.56,3136.65 473.51,3137.28 475.47,3137.95 477.42,3138.66 479.37,3139.42 481.32,3140.22 483.27,3141.06 485.22,3141.94 487.17,3142.86 489.12,3143.82 491.07,3144.82 493.03,3145.87 494.98,3146.95 496.93,3148.06 498.88,3149.22 500.83,3150.41 502.78,3151.64 504.73,3152.9 506.68,3154.19 508.63,3155.53 510.58,3156.89 512.54,3158.29 514.49,3159.71 516.44,3161.17 518.39,3162.66 520.34,3164.18 522.29,3165.73 524.24,3167.3 526.19,3168.9 528.14,3170.53 530.09,3172.19 532.05,3173.86 534,3175.56 535.95,3177.29 537.9,3179.03 539.85,3180.8 541.8,3182.59 543.75,3184.39 545.7,3186.22 547.65,3188.06 549.6,3189.92 551.56,3191.79 553.51,3193.68 555.46,3195.58 557.41,3197.5 559.36,3199.42 561.31,3201.36 563.26,3203.31 565.21,3205.27 567.16,3207.24 569.12,3209.21 571.07,3211.19 573.02,3213.18 574.97,3215.17 576.92,3217.17 578.87,3219.17 580.82,3221.18 582.77,3223.18 584.72,3225.19 586.67,3227.19 588.63,3229.2 590.58,3231.2 592.53,3233.21 594.48,3235.21 596.43,3237.2 598.38,3239.19 600.33,3241.18 602.28,3243.16 604.23,3245.13 606.18,3247.1 608.14,3249.06 610.09,3251.01 612.04,3252.95 613.99,3254.88 615.94,3256.8 617.89,3258.71 619.84,3260.61 621.79,3262.49 623.74,3264.36 625.7,3266.22 627.65,3268.07 629.6,3269.9 631.55,3271.71 633.5,3273.51 635.45,3275.3 637.4,3277.06 639.35,3278.81 641.3,3280.54 643.25,3282.26 645.21,3283.96 647.16,3285.63 649.11,3287.29 651.06,3288.93 653.01,3290.55 654.96,3292.15 656.91,3293.73 658.86,3295.28 660.81,3296.82 662.76,3298.34 664.72,3299.83 666.67,3301.3 668.62,3302.75 670.57,3304.17 672.52,3305.58 674.47,3306.95 676.42,3308.31 678.37,3309.64 680.32,3310.95 682.27,3312.24 684.23,3313.49 686.18,3314.73 688.13,3315.94 690.08,3317.13 692.03,3318.29 693.98,3319.42 695.93,3320.53 697.88,3321.61 699.83,3322.67 701.79,3323.7 703.74,3324.71 705.69,3325.69 707.64,3326.64 709.59,3327.57 711.54,3328.47 713.49,3329.34 715.44,3330.18 717.39,3331 719.34,3331.79 721.3,3332.55 723.25,3333.29 725.2,3333.99 727.15,3334.67 729.1,3335.32 731.05,3335.94 733,3336.53 734.95,3337.1 736.9,3337.63 738.85,3338.14 740.81,3338.61 742.76,3339.06 744.71,3339.48 746.66,3339.86 748.61,3340.22 750.56,3340.55 752.51,3340.84 754.46,3341.11 756.41,3341.34 758.37,3341.54 760.32,3341.71 762.27,3341.85 764.22,3341.95 766.17,3342.03 768.12,3342.07 770.07,3342.07 772.02,3342.05 773.97,3341.99 775.92,3341.89 777.88,3341.76 779.83,3341.6 781.78,3341.4 783.73,3341.17 785.68,3340.9 787.63,3340.59 789.58,3340.25 791.53,3339.87 793.48,3339.46 795.43,3339 797.39,3338.51 799.34,3337.98 801.29,3337.41 803.24,3336.8 805.19,3336.16 807.14,3335.47 809.09,3334.74 811.04,3333.97 812.99,3333.16 814.94,3332.31 816.9,3331.42 818.85,3330.48 820.8,3329.5 822.75,3328.48 824.7,3327.42 826.65,3326.31 828.6,3325.15 830.55,3323.96 832.5,3322.71 834.46,3321.42 836.41,3320.09 838.36,3318.71 840.31,3317.28 842.26,3315.8 844.21,3314.28 846.16,3312.71 848.11,3311.09 850.06,3309.43 852.01,3307.71 853.97,3305.95 855.92,3304.14 857.87,3302.28 859.82,3300.37 861.77,3298.41 863.72,3296.4 865.67,3294.34 867.62,3292.24 869.57,3290.08 871.52,3287.87 873.48,3285.61 875.43,3283.31 877.38,3280.95 879.33,3278.54 881.28,3276.09 883.23,3273.58 885.18,3271.03 887.13,3268.42 889.08,3265.77 891.04,3263.07 892.99,3260.32 894.94,3257.53 896.89,3254.68 898.84,3251.79 900.79,3248.86 902.74,3245.88 904.69,3242.85 906.64,3239.78 908.59,3236.66 910.55,3233.5 912.5,3230.3 914.45,3227.06 916.4,3223.78 918.35,3220.46 920.3,3217.09 922.25,3213.7 924.2,3210.26 926.15,3206.79 928.1,3203.28 930.06,3199.75 932.01,3196.18 933.96,3192.57 935.91,3188.94 937.86,3185.29 939.81,3181.6 941.76,3177.89 943.71,3174.16 945.66,3170.4 947.61,3166.63 949.57,3162.83 951.52,3159.02 953.47,3155.2 955.42,3151.36 957.37,3147.5 959.32,3143.64 961.27,3139.77 963.22,3135.9 965.17,3132.02 967.13,3128.14 969.08,3124.26 971.03,3120.38 972.98,3116.51 974.93,3112.65 976.88,3108.79 978.83,3104.94 980.78,3101.11 982.73,3097.29 984.68,3093.49 986.64,3089.7 988.59,3085.95 990.54,3082.21 992.49,3078.5 994.44,3074.82 996.39,3071.18 998.34,3067.56 1000.29,3063.98 1002.24,3060.44 1004.19,3056.94 1006.15,3053.49 1008.1,3050.07 1010.05,3046.71 1012,3043.4 1013.95,3040.13 1015.9,3036.93 1017.85,3033.77 1019.8,3030.68 1021.75,3027.65 1023.71,3024.68 1025.66,3021.77 1027.61,3018.93 1029.56,3016.17 1031.51,3013.47 1033.46,3010.84 1035.41,3008.29 1037.36,3005.82 1039.31,3003.43 1041.26,3001.11 1043.22,2998.88 1045.17,2996.73 1047.12,2994.67 1049.07,2992.7 1051.02,2990.81 1052.97,2989.01 1054.92,2987.31 1056.87,2985.69 1058.82,2984.17 1060.77,2982.75 1062.73,2981.42 1064.68,2980.19 1066.63,2979.05 1068.58,2978.02 1070.53,2977.09 1072.48,2976.25 1074.43,2975.52 1076.38,2974.88 1078.33,2974.36 1080.28,2973.93 1082.24,2973.6 1084.19,2973.38 1086.14,2973.26 1088.09,2973.25 1090.04,2973.33 1091.99,2973.5 1093.94,2973.77 1095.89,2974.13 1097.84,2974.58 1099.8,2975.12 1101.75,2975.75 1103.7,2976.48 1105.65,2977.29 1107.6,2978.2 1109.55,2979.2 1111.5,2980.28 1113.45,2981.45 1115.4,2982.71 1117.35,2984.06 1119.31,2985.49 1121.26,2987.01 1123.21,2988.6 1125.16,2990.29 1127.11,2992.05 1129.06,2993.89 1131.01,2995.81 1132.96,2997.81 1134.91,2999.89 1136.86,3002.04 1138.82,3004.26 1140.77,3006.56 1142.72,3008.92 1144.67,3011.36 1146.62,3013.86 1148.57,3016.42 1150.52,3019.06 1152.47,3021.75 1154.42,3024.5 1156.38,3027.31 1158.33,3030.18 1160.28,3033.11 1162.23,3036.08 1164.18,3039.11 1166.13,3042.19 1168.08,3045.32 1170.03,3048.49 1171.98,3051.7 1173.93,3054.96 1175.89,3058.26 1177.84,3061.59 1179.79,3064.97 1181.74,3068.37 1183.69,3071.81 1185.64,3075.28 1187.59,3078.77 1189.54,3082.29 1191.49,3085.84 1193.44,3089.41 1195.4,3093 1197.35,3096.61 1199.3,3100.23 1201.25,3103.87 1203.2,3107.52 1205.15,3111.19 1207.1,3114.86 1209.05,3118.54 1211,3122.22 1212.95,3125.91 1214.91,3129.6 1216.86,3133.29 1218.81,3136.98 1220.76,3140.66 1222.71,3144.35 1224.66,3148.02 1226.61,3151.69 1228.56,3155.34 1230.51,3158.99 1232.47,3162.62 1234.42,3166.24 1236.37,3169.84 1238.32,3173.43 1240.27,3176.99 1242.22,3180.54 1244.17,3184.07 1246.12,3187.57 1248.07,3191.06 1250.02,3194.51 1251.98,3197.94 1253.93,3201.35 1255.88,3204.72 1257.83,3208.07 1259.78,3211.39 1261.73,3214.68 1263.68,3217.93 1265.63,3221.15 1267.58,3224.34 1269.53,3227.5 1271.49,3230.62 1273.44,3233.71 1275.39,3236.75 1277.34,3239.77 1279.29,3242.74 1281.24,3245.68 1283.19,3248.58 1285.14,3251.44 1287.09,3254.26 1289.05,3257.04 1291,3259.78 1292.95,3262.48 1294.9,3265.15 1296.85,3267.77 1298.8,3270.34 1300.75,3272.88 1302.7,3275.38 1304.65,3277.84 1306.6,3280.25 1308.56,3282.62 1310.51,3284.95 1312.46,3287.24 1314.41,3289.49 1316.36,3291.7 1318.31,3293.86 1320.26,3295.99 1322.21,3298.07 1324.16,3300.11 1326.11,3302.12 1328.07,3304.08 1330.02,3306 1331.97,3307.88 1333.92,3309.72 1335.87,3311.53 1337.82,3313.29 1339.77,3315.01 1341.72,3316.7 1343.67,3318.35 1345.62,3319.96 1347.58,3321.54 1349.53,3323.07 1351.48,3324.57 1353.43,3326.04 1355.38,3327.47 1357.33,3328.86 1359.28,3330.22 1361.23,3331.55 1363.18,3332.84 1365.14,3334.1 1367.09,3335.33 1369.04,3336.52 1370.99,3337.68 1372.94,3338.82 1374.89,3339.92 1376.84,3340.99 1378.79,3342.03 1380.74,3343.04 1382.69,3344.03 1384.65,3344.99 1386.6,3345.92 1388.55,3346.82 1390.5,3347.69 1392.45,3348.54 1394.4,3349.37 1396.35,3350.17 1398.3,3350.95 1400.25,3351.7 1402.2,3352.43 1404.16,3353.14 1406.11,3353.82 1408.06,3354.49 1410.01,3355.13 1411.96,3355.75 1413.91,3356.35 1415.86,3356.93 1417.81,3357.5 1419.76,3358.04 1421.72,3358.57 1423.67,3359.08 1425.62,3359.57 1427.57,3360.04 1429.52,3360.5 1431.47,3360.94 1433.42,3361.37 1435.37,3361.78 1437.32,3362.18 1439.27,3362.56 1441.23,3362.93 1443.18,3363.29 1445.13,3363.63 1447.08,3363.96 1449.03,3364.28 1450.98,3364.59 1452.93,3364.88 1454.88,3365.17 1456.83,3365.44 1458.78,3365.7 1460.74,3365.95 1462.69,3366.2 1464.64,3366.43 1466.59,3366.65 1468.54,3366.87 1470.49,3367.08 1472.44,3367.28 1474.39,3367.47 1476.34,3367.65 1478.29,3367.83 1480.25,3367.99 1482.2,3368.15 1484.15,3368.31 1486.1,3368.46 1488.05,3368.6"/>
<polyline stroke="#0000ff" stroke-width="8" fill="none" stroke-linejoin="round" stroke-linecap="round" stroke-dasharray="0.01 16.79" points="375.12,3349.03 377.08,3348.02 379.03,3346.96 380.98,3345.88 382.94,3344.75 384.89,3343.59 386.84,3342.39 388.79,3341.15 390.75,3339.88 392.7,3338.56 394.65,3337.21 396.6,3335.82 398.56,3334.38 400.51,3332.91 402.46,3331.4 404.41,3329.84 406.37,3328.24 408.32,3326.61 410.27,3324.93 412.22,3323.21 414.17,3321.44 416.13,3319.64 418.08,3317.8 420.03,3315.91 421.99,3313.99 423.94,3312.02 425.89,3310.02 427.84,3307.97 429.8,3305.89 431.75,3303.77 433.7,3301.61 435.65,3299.41 437.61,3297.18 439.56,3294.91 441.51,3292.61 443.46,3290.28 445.41,3287.91 447.37,3285.52 449.32,3283.09 451.27,3280.64 453.23,3278.16 455.18,3275.65 457.13,3273.13 459.08,3270.58 461.03,3268 462.99,3265.42 464.94,3262.81 466.89,3260.19 468.85,3257.56 470.8,3254.92 472.75,3252.27 474.7,3249.61 476.65,3246.95 478.61,3244.29 480.56,3241.63 482.51,3238.98 484.47,3236.32 486.42,3233.68 488.37,3231.05 490.32,3228.43 492.27,3225.83 494.23,3223.25 496.18,3220.68 498.13,3218.14 500.09,3215.63 502.04,3213.15 503.99,3210.7 505.94,3208.28 507.9,3205.91 509.85,3203.57 511.8,3201.27 513.75,3199.02 515.7,3196.82 517.66,3194.67 519.61,3192.57 521.56,3190.53 523.51,3188.55 525.47,3186.62 527.42,3184.76 529.37,3182.97 531.33,3181.24 533.28,3179.58 535.23,3177.99 537.18,3176.48 539.13,3175.04 541.09,3173.68 543.04,3172.4 544.99,3171.2 546.94,3170.08 548.9,3169.05 550.85,3168.1 552.8,3167.24 554.75,3166.46 556.71,3165.78 558.66,3165.18 560.61,3164.68 562.57,3164.26 564.52,3163.94 566.47,3163.71 568.42,3163.57 570.38,3163.52 572.33,3163.56 574.28,3163.68 576.23,3163.89 578.18,3164.18 580.14,3164.55 582.09,3165.01 584.04,3165.54 586,3166.16 587.95,3166.85 589.9,3167.63 591.85,3168.48 593.81,3169.41 595.76,3170.42 597.71,3171.5 599.66,3172.65 601.62,3173.88 603.57,3175.18 605.52,3176.54 607.47,3177.98 609.42,3179.48 611.38,3181.04 613.33,3182.67 615.28,3184.35 617.24,3186.1 619.19,3187.9 621.14,3189.76 623.09,3191.67 625.05,3193.63 627,3195.63 628.95,3197.69 630.9,3199.79 632.86,3201.92 634.81,3204.1 636.76,3206.32 638.71,3208.57 640.66,3210.85 642.62,3213.16 644.57,3215.5 646.52,3217.86 648.48,3220.25 650.43,3222.66 652.38,3225.08 654.33,3227.52 656.28,3229.98 658.24,3232.44 660.19,3234.91 662.14,3237.39 664.1,3239.87 666.05,3242.36 668,3244.84 669.95,3247.32 671.9,3249.8 673.86,3252.27 675.81,3254.72 677.76,3257.17 679.72,3259.6 681.67,3262.02 683.62,3264.42 685.57,3266.8 687.53,3269.16 689.48,3271.49 691.43,3273.8 693.38,3276.08 695.34,3278.34 697.29,3280.56 699.24,3282.75 701.19,3284.91 703.14,3287.03 705.1,3289.11 707.05,3291.16 709,3293.16 710.95,3295.13 712.91,3297.05 714.86,3298.93 716.81,3300.76 718.76,3302.54 720.72,3304.27 722.67,3305.96 724.62,3307.59 726.58,3309.18 728.53,3310.71 730.48,3312.18 732.43,3313.6 734.38,3314.96 736.34,3316.27 738.29,3317.51 740.24,3318.7 742.19,3319.82 744.15,3320.88 746.1,3321.88 748.05,3322.81 750,3323.68 751.96,3324.48 753.91,3325.22 755.86,3325.88 757.82,3326.48 759.77,3327 761.72,3327.45 763.67,3327.83 765.62,3328.14 767.58,3328.37 769.53,3328.52 771.48,3328.59 773.43,3328.59 775.39,3328.51 777.34,3328.34 779.29,3328.1 781.25,3327.77 783.2,3327.36 785.15,3326.86 787.1,3326.27 789.06,3325.59 791.01,3324.83 792.96,3323.97 794.91,3323.03 796.87,3321.99 798.82,3320.85 800.77,3319.63 802.72,3318.3 804.67,3316.88 806.63,3315.35 808.58,3313.73 810.53,3312 812.49,3310.18 814.44,3308.25 816.39,3306.21 818.34,3304.07 820.3,3301.82 822.25,3299.46 824.2,3297 826.15,3294.43 828.11,3291.74 830.06,3288.95 832.01,3286.04 833.96,3283.02 835.91,3279.89 837.87,3276.65 839.82,3273.29 841.77,3269.82 843.73,3266.23 845.68,3262.53 847.63,3258.72 849.58,3254.79 851.53,3250.75 853.49,3246.6 855.44,3242.33 857.39,3237.96 859.35,3233.47 861.3,3228.87 863.25,3224.17 865.2,3219.36 867.15,3214.44 869.11,3209.42 871.06,3204.29 873.01,3199.07 874.97,3193.75 876.92,3188.33 878.87,3182.82 880.82,3177.21 882.77,3171.52 884.73,3165.75 886.68,3159.9 888.63,3153.96 890.59,3147.95 892.54,3141.88 894.49,3135.73 896.44,3129.53 898.39,3123.26 900.35,3116.94 902.3,3110.58 904.25,3104.16 906.21,3097.72 908.16,3091.23 910.11,3084.72 912.06,3078.19 914.02,3071.63 915.97,3065.07 917.92,3058.5 919.87,3051.94 921.83,3045.38 923.78,3038.83 925.73,3032.3 927.68,3025.8 929.63,3019.33 931.59,3012.9 933.54,3006.51 935.49,3000.18 937.44,2993.91 939.4,2987.71 941.35,2981.57 943.3,2975.52 945.25,2969.56 947.21,2963.68 949.16,2957.91 951.11,2952.25 953.06,2946.7 955.02,2941.27 956.97,2935.97 958.92,2930.8 960.88,2925.77 962.83,2920.88 964.78,2916.15 966.73,2911.58 968.69,2907.17 970.64,2902.93 972.59,2898.86 974.54,2894.98 976.5,2891.28 978.45,2887.77 980.4,2884.46 982.35,2881.34 984.31,2878.43 986.26,2875.72 988.21,2873.22 990.16,2870.94 992.12,2868.88 994.07,2867.03 996.02,2865.41 997.97,2864.01 999.93,2862.84 1001.88,2861.9 1003.83,2861.18 1005.78,2860.7 1007.74,2860.45 1009.69,2860.42 1011.64,2860.59 1013.59,2860.94 1015.55,2861.47 1017.5,2862.19 1019.45,2863.09 1021.4,2864.18 1023.36,2865.44 1025.31,2866.88 1027.26,2868.51 1029.21,2870.3 1031.16,2872.27 1033.12,2874.42 1035.07,2876.73 1037.02,2879.21 1038.97,2881.85 1040.93,2884.66 1042.88,2887.62 1044.83,2890.74 1046.78,2894.02 1048.74,2897.44 1050.69,2901.01 1052.64,2904.72 1054.6,2908.56 1056.55,2912.55 1058.5,2916.66 1060.45,2920.9 1062.4,2925.26 1064.36,2929.73 1066.31,2934.32 1068.26,2939.02 1070.22,2943.83 1072.17,2948.73 1074.12,2953.73 1076.07,2958.81 1078.03,2963.99 1079.98,2969.24 1081.93,2974.57 1083.88,2979.97 1085.84,2985.44 1087.79,2990.96 1089.74,2996.55 1091.69,3002.18 1093.64,3007.87 1095.6,3013.59 1097.55,3019.35 1099.5,3025.14 1101.46,3030.97 1103.41,3036.81 1105.36,3042.67 1107.31,3048.55 1109.26,3054.44 1111.22,3060.33 1113.17,3066.22 1115.12,3072.11 1117.08,3078 1119.03,3083.87 1120.98,3089.72 1122.93,3095.56 1124.88,3101.37 1126.84,3107.15 1128.79,3112.91 1130.74,3118.63 1132.69,3124.31 1134.65,3129.96 1136.6,3135.56 1138.55,3141.11 1140.51,3146.62 1142.46,3152.07 1144.41,3157.46 1146.36,3162.8 1148.32,3168.08 1150.27,3173.3 1152.22,3178.46 1154.17,3183.54 1156.12,3188.56 1158.08,3193.51 1160.03,3198.39 1161.98,3203.2 1163.93,3207.93 1165.89,3212.59 1167.84,3217.17 1169.79,3221.67 1171.74,3226.09 1173.7,3230.43 1175.65,3234.7 1177.6,3238.88 1179.56,3242.98 1181.51,3247 1183.46,3250.94 1185.41,3254.79 1187.37,3258.56 1189.32,3262.25 1191.27,3265.86 1193.22,3269.38 1195.18,3272.83 1197.13,3276.19 1199.08,3279.47 1201.03,3282.67 1202.99,3285.79 1204.94,3288.83 1206.89,3291.79 1208.84,3294.67 1210.8,3297.48 1212.75,3300.2 1214.7,3302.86 1216.65,3305.43 1218.61,3307.94 1220.56,3310.37 1222.51,3312.73 1224.46,3315.02 1226.41,3317.24 1228.37,3319.39 1230.32,3321.47 1232.27,3323.49 1234.22,3325.44 1236.18,3327.33 1238.13,3329.16 1240.08,3330.93 1242.04,3332.63 1243.99,3334.28 1245.94,3335.87 1247.89,3337.41 1249.85,3338.89 1251.8,3340.32 1253.75,3341.69 1255.7,3343.02 1257.66,3344.3 1259.61,3345.52 1261.56,3346.71 1263.51,3347.84 1265.47,3348.94 1267.42,3349.99 1269.37,3351 1271.32,3351.97 1273.28,3352.89 1275.23,3353.79 1277.18,3354.64"/>
<polyline stroke="#ff0000" stroke-width="8" fill="none" stroke-linejoin="round" stroke-dasharray="32 12.4 8.8 12.6" points="530.54,3334.89 532.5,3334.49 534.45,3334.09 536.41,3333.68 538.36,3333.26 540.32,3332.83 542.27,3332.39 544.23,3331.95 546.18,3331.49 548.14,3331.02 550.09,3330.53 552.05,3330.04 554,3329.52 555.96,3328.99 557.91,3328.45 559.87,3327.88 561.82,3327.29 563.78,3326.68 565.73,3326.05 567.69,3325.39 569.64,3324.7 571.6,3323.98 573.55,3323.23 575.5,3322.45 577.46,3321.62 579.41,3320.76 581.37,3319.85 583.32,3318.89 585.28,3317.89 587.23,3316.83 589.19,3315.71 591.14,3314.53 593.1,3313.29 595.05,3311.98 597.01,3310.59 598.96,3309.13 600.92,3307.58 602.87,3305.95 604.83,3304.22 606.78,3302.39 608.74,3300.45 610.69,3298.41 612.65,3296.25 614.6,3293.96 616.56,3291.55 618.51,3289 620.47,3286.31 622.42,3283.47 624.37,3280.47 626.33,3277.31 628.28,3273.98 630.24,3270.47 632.19,3266.77 634.15,3262.88 636.1,3258.8 638.06,3254.5 640.01,3249.99 641.97,3245.26 643.92,3240.3 645.88,3235.1 647.83,3229.66 649.79,3223.97 651.74,3218.03 653.7,3211.82 655.65,3205.34 657.61,3198.59 659.56,3191.56 661.52,3184.25 663.47,3176.65 665.43,3168.77 667.38,3160.58 669.34,3152.1 671.29,3143.32 673.25,3134.25 675.2,3124.87 677.15,3115.19 679.11,3105.22 681.06,3094.94 683.02,3084.38 684.97,3073.53 686.93,3062.39 688.88,3050.97 690.84,3039.28 692.79,3027.33 694.75,3015.12 696.7,3002.66 698.66,2989.97 700.61,2977.06 702.57,2963.94 704.52,2950.62 706.48,2937.12 708.43,2923.46 710.39,2909.65 712.34,2895.72 714.3,2881.67 716.25,2867.54 718.21,2853.34 720.16,2839.1 722.12,2824.83 724.07,2810.56 726.03,2796.32 727.98,2782.13 729.93,2768.01 731.89,2754 733.84,2740.12 735.8,2726.39 737.75,2712.84 739.71,2699.51 741.66,2686.41 743.62,2673.58 745.57,2661.03 747.53,2648.81 749.48,2636.93 751.44,2625.43 753.39,2614.32 755.35,2603.63 757.3,2593.39 759.26,2583.63 761.21,2574.36 763.17,2565.6 765.12,2557.38 767.08,2549.72 769.03,2542.63 770.99,2536.14 772.94,2530.25 774.9,2524.99 776.85,2520.36 778.8,2516.38 780.76,2513.06 782.71,2510.4 784.67,2508.41 786.62,2507.1 788.58,2506.47 790.53,2506.51 792.49,2507.23 794.44,2508.61 796.4,2510.65 798.35,2513.35 800.31,2516.71 802.26,2520.7 804.22,2525.32 806.17,2530.57 808.13,2536.42 810.08,2542.86 812.04,2549.88 813.99,2557.45 815.95,2565.57 817.9,2574.21 819.86,2583.34 821.81,2592.96 823.77,2603.03 825.72,2613.53 827.68,2624.44 829.63,2635.73 831.58,2647.38 833.54,2659.37 835.49,2671.66 837.45,2684.23 839.4,2697.05 841.36,2710.1 843.31,2723.35 845.27,2736.77 847.22,2750.34 849.18,2764.04 851.13,2777.83 853.09,2791.69 855.04,2805.6 857,2819.54 858.95,2833.48 860.91,2847.39 862.86,2861.25 864.82,2875.06 866.77,2888.77 868.73,2902.38 870.68,2915.86 872.64,2929.2 874.59,2942.38 876.55,2955.38 878.5,2968.2 880.46,2980.81 882.41,2993.2 884.36,3005.37 886.32,3017.3 888.27,3028.98 890.23,3040.4 892.18,3051.56 894.14,3062.45 896.09,3073.07 898.05,3083.4 900,3093.45 901.96,3103.21 903.91,3112.68 905.87,3121.86 907.82,3130.76 909.78,3139.36 911.73,3147.67 913.69,3155.69 915.64,3163.43 917.6,3170.89 919.55,3178.06 921.51,3184.97 923.46,3191.6 925.42,3197.97 927.37,3204.07 929.33,3209.93 931.28,3215.53 933.23,3220.89 935.19,3226.02 937.14,3230.91 939.1,3235.59 941.05,3240.05 943.01,3244.3 944.96,3248.34 946.92,3252.2 948.87,3255.87 950.83,3259.35 952.78,3262.67 954.74,3265.81 956.69,3268.8 958.65,3271.64 960.6,3274.33 962.56,3276.89 964.51,3279.31 966.47,3281.61 968.42,3283.78 970.38,3285.85 972.33,3287.8 974.29,3289.66 976.24,3291.42 978.2,3293.08 980.15,3294.67 982.11,3296.17 984.06,3297.59 986.01,3298.95 987.97,3300.24 989.92,3301.46 991.88,3302.63 993.83,3303.74 995.79,3304.8 997.74,3305.81 999.7,3306.77 1001.65,3307.7 1003.61,3308.58 1005.56,3309.43 1007.52,3310.25 1009.47,3311.04 1011.43,3311.79 1013.38,3312.53 1015.34,3313.23 1017.29,3313.91 1019.25,3314.58 1021.2,3315.22 1023.16,3315.85 1025.11,3316.46 1027.07,3317.05 1029.02,3317.63 1030.98,3318.2 1032.93,3318.75 1034.89,3319.3 1036.84,3319.84 1038.79,3320.36 1040.75,3320.88 1042.7,3321.39 1044.66,3321.9 1046.61,3322.39 1048.57,3322.89 1050.52,3323.37 1052.48,3323.86 1054.43,3324.33 1056.39,3324.81 1058.34,3325.28 1060.3,3325.74 1062.25,3326.21 1064.21,3326.67 1066.16,3327.12 1068.12,3327.58 1070.07,3328.03 1072.03,3328.48 1073.98,3328.92 1075.94,3329.37 1077.89,3329.81 1079.85,3330.25 1081.8,3330.69 1083.76,3331.13 1085.71,3331.56 1087.67,3331.99 1089.62,3332.43 1091.57,3332.85 1093.53,3333.28 1095.48,3333.71 1097.44,3334.13 1099.39,3334.55 1101.35,3334.97 1103.3,3335.39 1105.26,3335.81 1107.21,3336.22 1109.17,3336.63 1111.12,3337.04 1113.08,3337.45 1115.03,3337.86 1116.99,3338.26 1118.94,3338.66 1120.9,3339.06 1122.85,3339.46 1124.81,3339.86 1126.76,3340.25 1128.72,3340.64 1130.67,3341.03 1132.63,3341.41 1134.58,3341.8 1136.54,3342.18 1138.49,3342.56 1140.44,3342.94 1142.4,3343.31 1144.35,3343.68 1146.31,3344.05 1148.26,3344.42 1150.22,3344.78 1152.17,3345.14 1154.13,3345.5 1156.08,3345.86 1158.04,3346.21 1159.99,3346.56 1161.95,3346.91 1163.9,3347.26 1165.86,3347.6 1167.81,3347.94 1169.77,3348.27 1171.72,3348.61 1173.68,3348.94 1175.63,3349.27 1177.59,3349.59 1179.54,3349.92 1181.5,3350.24 1183.45,3350.55 1185.41,3350.87 1187.36,3351.18 1189.32,3351.48 1191.27,3351.79"/>
<polyline stroke="#000000" stroke-width="7.5" fill="none" stroke-linejoin="round" points="375.12,3371.49 377.08,3371.49 379.03,3371.49 380.98,3371.48 382.94,3371.48 384.89,3371.48 386.84,3371.48 388.79,3371.48 390.75,3371.47 392.7,3371.47 394.65,3371.47 396.6,3371.46 398.56,3371.46 400.51,3371.46 402.46,3371.45 404.41,3371.45 406.37,3371.44 408.32,3371.43 410.27,3371.43 412.22,3371.42 414.17,3371.41 416.13,3371.4 418.08,3371.39 420.03,3371.38 421.99,3371.37 423.94,3371.35 425.89,3371.34 427.84,3371.32 429.8,3371.3 431.75,3371.28 433.7,3371.26 435.65,3371.24 437.61,3371.21 439.56,3371.19 441.51,3371.16 443.46,3371.12 445.41,3371.09 447.37,3371.05 449.32,3371.01 451.27,3370.96 453.23,3370.91 455.18,3370.86 457.13,3370.8 459.08,3370.74 461.03,3370.67 462.99,3370.6 464.94,3370.52 466.89,3370.43 468.85,3370.34 470.8,3370.23 472.75,3370.13 474.7,3370.01 476.65,3369.88 478.61,3369.74 480.56,3369.6 482.51,3369.44 484.47,3369.27 486.42,3369.08 488.37,3368.89 490.32,3368.67 492.27,3368.45 494.23,3368.2 496.18,3367.94 498.13,3367.66 500.09,3367.36 502.04,3367.04 503.99,3366.7 505.94,3366.33 507.89,3365.94 509.85,3365.52 511.8,3365.07 513.75,3364.6 515.7,3364.09 517.66,3363.55 519.61,3362.97 521.56,3362.36 523.51,3361.71 525.47,3361.02 527.42,3360.29 529.37,3359.51 531.33,3358.68 533.28,3357.81 535.23,3356.88 537.18,3355.9 539.13,3354.86 541.09,3353.76 543.04,3352.6 544.99,3351.38 546.94,3350.09 548.9,3348.72 550.85,3347.29 552.8,3345.77 554.75,3344.18 556.71,3342.51 558.66,3340.74 560.61,3338.89 562.57,3336.95 564.52,3334.91 566.47,3332.77 568.42,3330.52 570.38,3328.17 572.33,3325.71 574.28,3323.14 576.23,3320.45 578.18,3317.64 580.14,3314.7 582.09,3311.64 584.04,3308.45 586,3305.12 587.95,3301.65 589.9,3298.05 591.85,3294.3 593.8,3290.4 595.76,3286.35 597.71,3282.14 599.66,3277.78 601.62,3273.26 603.57,3268.58 605.52,3263.73 607.47,3258.72 609.42,3253.53 611.38,3248.18 613.33,3242.65 615.28,3236.94 617.24,3231.06 619.19,3225 621.14,3218.76 623.09,3212.35 625.05,3205.75 627,3198.97 628.95,3192.01 630.9,3184.88 632.86,3177.56 634.81,3170.07 636.76,3162.4 638.71,3154.55 640.66,3146.54 642.62,3138.35 644.57,3129.99 646.52,3121.47 648.48,3112.79 650.43,3103.96 652.38,3094.97 654.33,3085.83 656.28,3076.55 658.24,3067.14 660.19,3057.59 662.14,3047.92 664.1,3038.14 666.05,3028.24 668,3018.24 669.95,3008.14 671.9,2997.96 673.86,2987.7 675.81,2977.37 677.76,2966.98 679.72,2956.55 681.67,2946.07 683.62,2935.57 685.57,2925.04 687.53,2914.51 689.48,2903.99 691.43,2893.48 693.38,2883 695.34,2872.56 697.29,2862.17 699.24,2851.85 701.19,2841.61 703.14,2831.45 705.1,2821.4 707.05,2811.46 709,2801.65 710.95,2791.99 712.91,2782.48 714.86,2773.13 716.81,2763.97 718.76,2755 720.72,2746.24 722.67,2737.69 724.62,2729.38 726.58,2721.3 728.53,2713.49 730.48,2705.93 732.43,2698.66 734.38,2691.67 736.34,2684.99 738.29,2678.61 740.24,2672.55 742.19,2666.82 744.15,2661.42 746.1,2656.37 748.05,2651.68 750,2647.34 751.96,2643.38 753.91,2639.78 755.86,2636.57 757.82,2633.74 759.77,2631.31 761.72,2629.26 763.67,2627.61 765.62,2626.37 767.58,2625.52 769.53,2625.08 771.48,2625.03 773.43,2625.4 775.39,2626.16 777.34,2627.33 779.29,2628.9 781.25,2630.87 783.2,2633.23 785.15,2635.98 787.1,2639.11 789.06,2642.63 791.01,2646.52 792.96,2650.78 794.91,2655.4 796.87,2660.38 798.82,2665.71 800.77,2671.37 802.72,2677.37 804.67,2683.68 806.63,2690.31 808.58,2697.24 810.53,2704.46 812.48,2711.95 814.44,2719.72 816.39,2727.74 818.34,2736.01 820.3,2744.51 822.25,2753.23 824.2,2762.16 826.15,2771.29 828.11,2780.6 830.06,2790.07 832.01,2799.71 833.96,2809.49 835.92,2819.4 837.87,2829.43 839.82,2839.57 841.77,2849.8 843.73,2860.1 845.68,2870.48 847.63,2880.91 849.58,2891.38 851.53,2901.89 853.49,2912.41 855.44,2922.94 857.39,2933.46 859.35,2943.97 861.3,2954.45 863.25,2964.9 865.2,2975.3 867.15,2985.64 869.11,2995.91 871.06,3006.11 873.01,3016.22 874.97,3026.24 876.92,3036.16 878.87,3045.97 880.82,3055.67 882.77,3065.24 884.73,3074.68 886.68,3083.99 888.63,3093.15 890.59,3102.17 892.54,3111.04 894.49,3119.75 896.44,3128.3 898.39,3136.69 900.35,3144.91 902.3,3152.96 904.25,3160.84 906.2,3168.55 908.16,3176.08 910.11,3183.43 912.06,3190.6 914.02,3197.6 915.97,3204.41 917.92,3211.04 919.87,3217.5 921.83,3223.77 923.78,3229.86 925.73,3235.78 927.68,3241.52 929.63,3247.08 931.59,3252.48 933.54,3257.69 935.49,3262.74 937.44,3267.62 939.4,3272.34 941.35,3276.89 943.3,3281.28 945.25,3285.52 947.21,3289.6 949.16,3293.53 951.11,3297.31 953.06,3300.94 955.02,3304.44 956.97,3307.79 958.92,3311.01 960.88,3314.1 962.83,3317.06 964.78,3319.9 966.73,3322.61 968.69,3325.21 970.64,3327.69 972.59,3330.06 974.54,3332.33 976.5,3334.49 978.45,3336.55 980.4,3338.51 982.35,3340.38 984.31,3342.16 986.26,3343.85 988.21,3345.46 990.16,3346.99 992.12,3348.44 994.07,3349.82 996.02,3351.13 997.97,3352.36 999.93,3353.54 1001.88,3354.65 1003.83,3355.7 1005.78,3356.69 1007.74,3357.63 1009.69,3358.51 1011.64,3359.35 1013.59,3360.13 1015.55,3360.88 1017.5,3361.58 1019.45,3362.23 1021.4,3362.85 1023.36,3363.44 1025.31,3363.98 1027.26,3364.5 1029.21,3364.98 1031.16,3365.43 1033.12,3365.86 1035.07,3366.25 1037.02,3366.62 1038.97,3366.97 1040.93,3367.3 1042.88,3367.6 1044.83,3367.89 1046.78,3368.15 1048.74,3368.4 1050.69,3368.63 1052.64,3368.84 1054.6,3369.04 1056.55,3369.23 1058.5,3369.4 1060.45,3369.56 1062.4,3369.71 1064.36,3369.85 1066.31,3369.98 1068.26,3370.1 1070.22,3370.21 1072.17,3370.32 1074.12,3370.41 1076.07,3370.5 1078.03,3370.58 1079.98,3370.66 1081.93,3370.73"/>
<path stroke="#000000" stroke-width="7.5" d="M1586 2082.8H1732.4"/>
<path stroke="#ff0000" stroke-width="8" stroke-dasharray="32 12.4 8.8 12.6" d="M1586 2159.4H1732.4"/>
<path stroke="#0000ff" stroke-width="8" stroke-linecap="round" stroke-dasharray="0.01 16.79" stroke-dashoffset="12.8" d="M1586 2236H1732.4"/>
<path stroke="#008080" stroke-width="8" stroke-dasharray="50.5 20.2 12.8 20" d="M1586 2312.6H1732.4"/>
<path stroke="#ff00ff" stroke-width="8" stroke-dasharray="37.3 22.2 10.5 22.3 10.5 22.2" d="M1586 2389.2H1732.4"/>
<path stroke="#808000" stroke-width="8" stroke-dasharray="20.5 17.3" d="M1586 2465.8H1732.4"/>
<path d="M788.3 2503.4L897.37 2410.42" stroke="#ff0000" stroke-width="1.4" stroke-opacity="0.65" fill="none"/>
<path d="M916.4 2394.2L900.33 2416.97L891.38 2406.46Z" fill="#ff0000"/>
<path d="M804.8 2669.6L894.64 2587.56" stroke="#000000" stroke-width="1.4" stroke-opacity="0.65" fill="none"/>
<path d="M913.1 2570.7L897.82 2594L888.51 2583.81Z" fill="#000000"/>
<path d="M1009.6 2859.3L1147.62 2730.46" stroke="#0000ff" stroke-width="1.4" stroke-opacity="0.65" fill="none"/>
<path d="M1165.9 2713.4L1150.87 2736.87L1141.45 2726.78Z" fill="#0000ff"/>
<path d="M1097.6 2965.7L1153.31 2915.61" stroke="#008000" stroke-width="1.4" stroke-opacity="0.65" fill="none"/>
<path d="M1171.9 2898.9L1156.43 2922.08L1147.21 2911.82Z" fill="#008000"/>
<path d="M1259 3135.2L1345.05 3070.26" stroke="#ff00ff" stroke-width="1.4" stroke-opacity="0.65" fill="none"/>
<path d="M1365 3055.2L1347.61 3076.97L1339.29 3065.96Z" fill="#ff00ff"/>
<path d="M1315.5 3228.4L1345.09 3205.92" stroke="#808040" stroke-width="1.4" stroke-opacity="0.65" fill="none"/>
<path d="M1365 3190.8L1347.67 3212.63L1339.33 3201.64Z" fill="#808040"/>
<text x="1115.3" y="3724.5" font-family="'Liberation Serif', 'Times New Roman', serif" font-size="87.5" textLength="91" lengthAdjust="spacing" fill="#000">(<tspan font-weight="bold">c</tspan>)</text>
<g fill="#000">
<text x="935.8" y="307.4" font-family="'Liberation Sans', Arial, Helvetica, sans-serif" font-size="57" textLength="194.06" lengthAdjust="spacing">0.98μm</text>
<text x="931.3" y="440.6" font-family="'Liberation Sans', Arial, Helvetica, sans-serif" font-size="57" textLength="194.06" lengthAdjust="spacing">0.93μm</text>
<text x="1023.2" y="566.7" font-family="'Liberation Sans', Arial, Helvetica, sans-serif" font-size="57" textLength="191.86" lengthAdjust="spacing">1.29μm</text>
<text x="1031.6" y="697.4" font-family="'Liberation Sans', Arial, Helvetica, sans-serif" font-size="57" textLength="191.66" lengthAdjust="spacing">1.52μm</text>
<text x="1572.8" y="825.9" font-family="'Liberation Sans', Arial, Helvetica, sans-serif" font-size="57" textLength="194.26" lengthAdjust="spacing">2.58μm</text>
<text x="1569.9" y="989.5" font-family="'Liberation Sans', Arial, Helvetica, sans-serif" font-size="57" textLength="195.26" lengthAdjust="spacing">2.87μm</text>
<text x="927.1" y="2379.9" font-family="'Liberation Sans', Arial, Helvetica, sans-serif" font-size="57" textLength="192.06" lengthAdjust="spacing">1.33μm</text>
<text x="927.1" y="2563" font-family="'Liberation Sans', Arial, Helvetica, sans-serif" font-size="57" textLength="192.06" lengthAdjust="spacing">1.27μm</text>
<text x="1183.8" y="2704.2" font-family="'Liberation Sans', Arial, Helvetica, sans-serif" font-size="57" textLength="192.26" lengthAdjust="spacing">1.56μm</text>
<text x="1189.5" y="2888" font-family="'Liberation Sans', Arial, Helvetica, sans-serif" font-size="57" textLength="192.06" lengthAdjust="spacing">1.74μm</text>
<text x="1385.6" y="3051.4" font-family="'Liberation Sans', Arial, Helvetica, sans-serif" font-size="57" textLength="192.06" lengthAdjust="spacing">1.82μm</text>
<text x="1385.8" y="3182.4" font-family="'Liberation Sans', Arial, Helvetica, sans-serif" font-size="57" textLength="194.66" lengthAdjust="spacing">2.44μm</text>
<text x="1753.9" y="134.4" font-family="'Liberation Sans', Arial, Helvetica, sans-serif" font-size="42.5" font-weight="bold" textLength="365.2" lengthAdjust="spacing">PLA7525LprePGS</text>
<text x="1753.9" y="210.9" font-family="'Liberation Sans', Arial, Helvetica, sans-serif" font-size="42.5" font-weight="bold" textLength="463.07" lengthAdjust="spacing">PLA7525LprePGS_24h</text>
<text x="1753.9" y="287.4" font-family="'Liberation Sans', Arial, Helvetica, sans-serif" font-size="42.5" font-weight="bold" textLength="365.2" lengthAdjust="spacing">PLA5050LprePGS</text>
<text x="1753.9" y="363.9" font-family="'Liberation Sans', Arial, Helvetica, sans-serif" font-size="42.5" font-weight="bold" textLength="463.07" lengthAdjust="spacing">PLA5050LprePGS_24h</text>
<text x="1753.9" y="440.4" font-family="'Liberation Sans', Arial, Helvetica, sans-serif" font-size="42.5" font-weight="bold" textLength="365.2" lengthAdjust="spacing">PLA2575LprePGS</text>
<text x="1753.9" y="516.9" font-family="'Liberation Sans', Arial, Helvetica, sans-serif" font-size="42.5" font-weight="bold" textLength="463.07" lengthAdjust="spacing">PLA2575LprePGS_24h</text>
<text x="1740.8" y="2103.7" font-family="'Liberation Sans', Arial, Helvetica, sans-serif" font-size="42.5" font-weight="bold" textLength="369.73" lengthAdjust="spacing">PLA7525HprePGS</text>
<text x="1740.8" y="2180.2" font-family="'Liberation Sans', Arial, Helvetica, sans-serif" font-size="42.5" font-weight="bold" textLength="468.8" lengthAdjust="spacing">PLA7525HprePGS_24h</text>
<text x="1740.8" y="2256.7" font-family="'Liberation Sans', Arial, Helvetica, sans-serif" font-size="42.5" font-weight="bold" textLength="369.73" lengthAdjust="spacing">PLA5050HprePGS</text>
<text x="1740.8" y="2333.2" font-family="'Liberation Sans', Arial, Helvetica, sans-serif" font-size="42.5" font-weight="bold" textLength="468.8" lengthAdjust="spacing">PLA5050HprePGS_24h</text>
<text x="1740.8" y="2409.7" font-family="'Liberation Sans', Arial, Helvetica, sans-serif" font-size="42.5" font-weight="bold" textLength="369.73" lengthAdjust="spacing">PLA2575HprePGS</text>
<text x="1740.8" y="2486.2" font-family="'Liberation Sans', Arial, Helvetica, sans-serif" font-size="42.5" font-weight="bold" textLength="468.8" lengthAdjust="spacing">PLA2575HprePGS_24h</text>
<text x="1065.5" y="1595.5" font-family="'Liberation Sans', Arial, Helvetica, sans-serif" font-size="55" font-weight="bold" textLength="375.8" lengthAdjust="spacing">Diameter (um)</text>
<text x="1066" y="3554.9" font-family="'Liberation Sans', Arial, Helvetica, sans-serif" font-size="55" font-weight="bold" textLength="375.8" lengthAdjust="spacing">Diameter (um)</text>
<text transform="translate(88.5 856) rotate(-90)" font-family="'Liberation Sans', Arial, Helvetica, sans-serif" font-size="59.5" font-weight="bold" textLength="195.1" lengthAdjust="spacing">Counts</text>
<text transform="translate(88.5 2814.5) rotate(-90)" font-family="'Liberation Sans', Arial, Helvetica, sans-serif" font-size="59.5" font-weight="bold" textLength="194.9" lengthAdjust="spacing">Counts</text>
</g>
</svg>
</body></html>
